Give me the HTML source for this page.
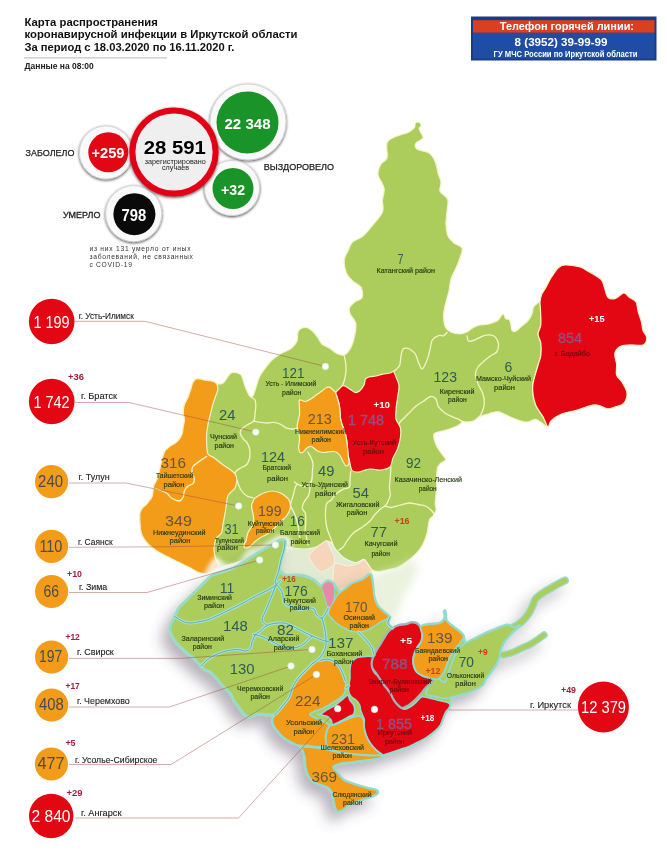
<!DOCTYPE html><html><head><meta charset="utf-8"><style>html,body{margin:0;padding:0;background:#fff;}svg{display:block;filter:blur(0.3px)} text{font-family:"Liberation Sans",sans-serif;}</style></head><body>
<svg width="667" height="850" viewBox="0 0 667 850">
<defs>
<filter id="sh" x="-20%" y="-20%" width="140%" height="140%"><feGaussianBlur in="SourceAlpha" stdDeviation="7"/><feOffset dx="-7" dy="9" result="b"/><feFlood flood-color="#5e5468"/><feComposite in2="b" operator="in"/><feComponentTransfer><feFuncA type="linear" slope="0.45"/></feComponentTransfer><feMerge><feMergeNode/><feMergeNode in="SourceGraphic"/></feMerge></filter>
<filter id="glow2" x="-20%" y="-20%" width="140%" height="140%"><feGaussianBlur stdDeviation="2"/></filter>
<filter id="glow" x="-20%" y="-20%" width="140%" height="140%"><feGaussianBlur stdDeviation="4"/></filter>
<filter id="csh" x="-30%" y="-30%" width="160%" height="160%"><feGaussianBlur in="SourceAlpha" stdDeviation="1.6"/><feOffset dx="-0.5" dy="0.8" result="b"/><feComponentTransfer><feFuncA type="linear" slope="0.75"/></feComponentTransfer><feMerge><feMergeNode/><feMergeNode in="SourceGraphic"/></feMerge></filter>
</defs>
<rect width="667" height="850" fill="#fff"/>
<path d="M417.0,123.0 C418.0,123.5 419.0,128.5 420.0,131.0 C421.0,133.5 423.7,136.0 423.0,138.0 C422.3,140.0 417.0,141.2 416.0,143.0 C415.0,144.8 414.8,147.3 417.0,149.0 C419.2,150.7 426.0,151.0 429.0,153.0 C432.0,155.0 433.5,157.7 435.0,161.0 C436.5,164.3 437.0,169.5 438.0,173.0 C439.0,176.5 440.7,179.0 441.0,182.0 C441.3,185.0 439.2,188.5 440.0,191.0 C440.8,193.5 444.7,195.3 446.0,197.0 C447.3,198.7 447.8,198.5 448.0,201.0 C448.2,203.5 447.3,208.2 447.0,212.0 C446.7,215.8 445.8,220.0 446.0,224.0 C446.2,228.0 446.7,232.8 448.0,236.0 C449.3,239.2 451.7,241.0 454.0,243.0 C456.3,245.0 461.0,245.5 462.0,248.0 C463.0,250.5 461.0,254.7 460.0,258.0 C459.0,261.3 457.5,264.5 456.0,268.0 C454.5,271.5 452.2,275.2 451.0,279.0 C449.8,282.8 450.0,286.5 449.0,291.0 C448.0,295.5 445.9,301.8 445.0,306.0 C444.1,310.2 443.5,312.5 443.6,316.0 C443.7,319.5 444.2,324.3 445.4,327.0 C446.6,329.7 448.4,330.8 450.8,332.0 C453.2,333.2 457.1,334.0 459.8,334.0 C462.5,334.0 464.9,333.0 467.0,332.0 C469.1,331.0 470.3,329.2 472.4,328.0 C474.5,326.8 476.9,325.7 479.6,325.0 C482.3,324.3 485.6,324.8 488.6,324.0 C491.6,323.2 495.2,322.2 497.6,320.5 C500.0,318.8 501.6,314.3 503.0,314.0 C504.4,313.7 504.6,317.8 505.7,318.7 C506.8,319.6 508.4,318.6 509.3,319.6 C510.2,320.7 510.6,323.2 511.0,325.0 C511.4,326.8 511.2,329.3 512.0,330.4 C512.8,331.4 514.1,331.9 515.6,331.3 C517.1,330.7 518.9,328.6 521.0,326.8 C523.1,325.0 526.4,322.6 528.2,320.5 C530.0,318.4 530.9,316.4 531.8,314.2 C532.7,311.9 532.7,308.8 533.6,307.0 C534.5,305.2 536.1,304.2 537.2,303.4 C538.3,302.6 539.5,300.9 540.0,302.0 C540.5,303.1 540.4,306.2 540.5,310.0 C540.6,313.8 541.2,321.0 540.8,325.0 C540.4,329.0 538.0,331.0 538.0,334.0 C538.0,337.0 540.3,339.4 540.8,343.0 C541.3,346.6 541.3,351.8 540.8,355.6 C540.3,359.4 539.1,360.9 537.8,366.0 C536.4,371.1 533.1,380.0 532.7,386.3 C532.3,392.6 533.6,398.9 535.3,404.0 C537.0,409.1 540.9,413.0 543.0,416.8 C545.1,420.6 548.4,426.1 548.0,427.0 C547.6,427.9 542.5,423.3 540.4,422.0 C538.3,420.7 537.4,419.4 535.3,419.4 C533.2,419.4 530.1,421.8 527.6,422.0 C525.1,422.2 523.0,421.6 520.0,420.7 C517.0,419.8 512.8,418.1 509.8,416.8 C506.8,415.5 504.1,413.9 502.0,413.0 C499.9,412.1 499.5,411.5 497.0,411.7 C494.5,411.9 489.8,413.4 486.8,414.3 C483.8,415.2 481.3,415.7 479.2,416.8 C477.1,417.9 476.1,419.8 474.0,420.7 C471.9,421.6 468.6,421.9 466.5,422.0 C464.4,422.1 462.2,420.8 461.4,421.0 C460.6,421.2 462.2,422.2 461.5,423.0 C460.8,423.8 459.0,425.0 457.0,426.0 C455.0,427.0 452.0,428.1 449.5,429.0 C447.0,429.9 444.2,430.6 442.0,431.2 C439.8,431.8 437.4,432.1 436.0,432.7 C434.6,433.3 433.8,433.4 433.7,435.0 C433.6,436.6 434.3,440.0 435.2,442.5 C436.1,445.0 437.6,447.8 439.0,450.0 C440.4,452.2 442.4,454.4 443.5,456.0 C444.6,457.6 446.2,458.4 445.7,459.7 C445.2,460.9 441.9,462.1 440.5,463.5 C439.1,464.9 438.1,465.8 437.5,468.0 C436.9,470.2 436.8,474.0 436.7,477.0 C436.6,480.0 436.8,483.0 436.7,486.0 C436.6,489.0 436.2,492.0 436.0,495.0 C435.8,498.0 435.2,501.5 435.2,504.0 C435.2,506.5 436.4,508.0 436.0,510.0 C435.6,512.0 434.1,514.3 433.0,516.0 C431.9,517.7 430.4,517.1 429.4,520.0 C428.4,522.9 428.1,529.4 427.0,533.5 C425.9,537.6 424.5,541.3 422.7,544.7 C420.9,548.1 418.6,550.9 416.0,553.7 C413.4,556.5 410.0,559.4 407.0,561.6 C404.0,563.9 401.0,565.9 398.0,567.2 C395.0,568.5 392.3,568.8 389.0,569.5 C385.7,570.2 381.1,571.7 378.2,571.7 C375.3,571.7 373.3,571.0 371.4,569.5 C369.5,568.0 368.3,564.4 367.0,562.7 C365.7,561.0 365.5,559.4 363.6,559.4 C361.7,559.4 358.9,562.9 355.7,562.7 C352.5,562.5 347.8,560.5 344.4,558.2 C341.0,556.0 337.7,551.8 335.5,549.2 C333.3,546.6 332.6,543.0 331.0,542.5 C329.4,542.0 329.5,543.8 326.0,546.0 C322.5,548.2 316.0,554.3 310.0,556.0 C304.0,557.7 296.7,556.0 290.0,556.0 C283.3,556.0 277.5,555.3 270.0,556.0 C262.5,556.7 252.5,558.3 245.0,560.0 C237.5,561.7 230.2,564.3 225.0,566.0 C219.8,567.7 217.1,568.7 214.0,570.0 C210.9,571.3 209.2,573.3 206.7,573.7 C204.2,574.1 201.9,573.5 199.0,572.5 C196.1,571.5 192.7,569.1 189.4,567.5 C186.2,565.9 182.8,564.2 179.5,562.6 C176.2,561.0 172.9,559.4 169.6,557.7 C166.3,556.1 162.7,554.4 159.8,552.7 C156.9,551.1 154.8,549.8 152.3,547.8 C149.8,545.8 146.8,542.9 145.0,540.4 C143.2,537.9 142.0,535.9 141.2,533.0 C140.4,530.1 140.2,526.3 140.0,523.0 C139.8,519.7 139.6,515.5 140.0,513.0 C140.4,510.5 141.3,509.6 142.5,508.0 C143.7,506.4 145.8,505.3 147.4,503.3 C149.0,501.3 151.3,498.9 152.3,496.0 C153.3,493.1 152.8,488.9 153.6,486.0 C154.4,483.1 156.3,481.5 157.3,478.6 C158.3,475.7 159.0,472.1 159.8,468.8 C160.6,465.5 161.4,461.9 162.2,459.0 C163.0,456.1 163.5,453.6 164.7,451.5 C165.9,449.4 167.5,448.1 169.6,446.5 C171.7,444.9 174.9,443.7 177.0,441.6 C179.1,439.6 181.0,436.7 182.0,434.2 C183.0,431.7 182.8,429.3 183.2,426.8 C183.6,424.3 184.4,421.9 184.4,419.4 C184.4,416.9 183.2,414.5 183.2,412.0 C183.2,409.5 183.6,407.1 184.4,404.6 C185.2,402.1 187.1,399.5 188.1,397.0 C189.1,394.5 189.8,392.2 190.6,389.8 C191.4,387.4 192.0,384.2 193.0,382.3 C194.0,380.4 194.9,379.0 196.8,378.6 C198.7,378.2 201.7,379.6 204.2,380.0 C206.7,380.4 209.5,380.4 211.6,381.0 C213.7,381.6 215.1,383.1 216.5,383.6 C217.9,384.1 218.8,384.2 220.0,384.0 C221.2,383.8 222.3,384.0 224.0,382.3 C225.7,380.6 228.2,375.3 230.0,373.7 C231.8,372.1 233.1,372.3 235.0,372.5 C236.9,372.7 239.8,373.4 241.2,375.0 C242.6,376.6 242.8,379.8 243.7,382.3 C244.6,384.8 245.6,387.7 246.5,389.8 C247.4,391.9 248.2,393.8 249.0,395.0 C249.8,396.2 250.3,397.0 251.0,397.0 C251.7,397.0 252.5,396.8 253.4,395.0 C254.3,393.2 255.4,389.0 256.4,386.0 C257.4,383.0 257.9,380.0 259.4,377.0 C260.9,374.0 263.1,371.0 265.4,368.0 C267.7,365.0 270.2,361.5 273.0,359.0 C275.8,356.5 279.0,354.8 282.0,353.0 C285.0,351.2 288.5,350.5 291.0,348.5 C293.5,346.5 295.8,343.9 297.0,341.0 C298.2,338.1 296.9,333.2 298.4,331.0 C299.9,328.8 303.5,327.3 306.0,327.5 C308.5,327.7 311.4,330.2 313.4,332.0 C315.4,333.8 316.6,336.0 318.0,338.0 C319.4,340.0 320.0,342.2 322.0,344.0 C324.0,345.8 327.7,347.0 330.0,348.5 C332.3,350.0 333.7,351.9 336.0,353.0 C338.3,354.1 341.6,355.8 344.0,355.0 C346.4,354.2 348.7,351.4 350.5,348.2 C352.3,345.0 353.8,339.8 354.7,335.6 C355.6,331.4 356.4,326.5 355.7,323.0 C355.0,319.5 351.6,317.1 350.5,314.6 C349.4,312.2 348.7,310.4 349.4,308.3 C350.1,306.2 352.6,303.8 354.7,302.0 C356.8,300.2 360.9,300.2 362.0,297.8 C363.1,295.4 362.6,290.1 361.0,287.3 C359.4,284.5 355.1,283.4 352.6,281.0 C350.2,278.6 347.7,276.1 346.3,272.6 C344.9,269.1 343.9,263.6 344.2,260.0 C344.5,256.4 346.6,254.0 348.0,251.0 C349.4,248.0 350.0,244.5 352.5,242.0 C355.0,239.5 359.5,239.0 363.0,236.0 C366.5,233.0 370.2,228.0 373.5,224.0 C376.8,220.0 381.0,216.0 382.5,212.0 C384.0,208.0 382.2,204.0 382.5,200.0 C382.8,196.0 384.8,192.2 384.0,188.0 C383.2,183.8 378.5,178.5 378.0,174.5 C377.5,170.5 379.5,166.8 381.0,164.0 C382.5,161.2 386.0,161.5 387.0,158.0 C388.0,154.5 385.8,146.5 387.0,143.0 C388.2,139.5 391.0,138.8 394.5,137.0 C398.0,135.2 404.8,134.0 408.0,132.5 C411.2,131.0 412.5,129.6 414.0,128.0 C415.5,126.4 416.0,122.5 417.0,123.0Z" fill="#accc5c" stroke="#f4f4c8" stroke-width="1.2" stroke-linejoin="round" stroke-linecap="round" />
<circle cx="418" cy="125" r="2.6" fill="#accc5c"/>
<path d="M154.8,488.5 C156.0,488.9 160.1,490.2 162.2,491.0 C164.3,491.8 165.6,492.3 167.2,493.5 C168.8,494.7 169.9,497.1 172.0,498.4 C174.1,499.6 177.6,501.2 179.5,501.0 C181.4,500.8 182.4,498.7 183.2,497.0 C184.0,495.3 183.6,492.8 184.4,491.0 C185.2,489.2 186.7,487.2 188.1,486.0 C189.5,484.8 192.0,484.8 193.0,483.6 C194.0,482.4 194.5,480.7 194.3,478.6 C194.1,476.5 192.1,473.2 191.9,471.2 C191.7,469.1 191.8,467.9 193.0,466.3 C194.2,464.7 197.0,463.0 199.3,461.4 C201.6,459.8 205.5,457.2 206.7,456.4" fill="none" stroke="#f4f4c8" stroke-width="1.3" stroke-linejoin="round" stroke-linecap="round" />
<path d="M251.0,397.0 C251.7,397.5 254.2,398.5 255.0,400.0 C255.8,401.5 255.8,403.6 255.8,406.0 C255.8,408.4 255.3,411.8 255.0,414.3 C254.7,416.8 255.0,419.2 253.7,421.0 C252.4,422.8 249.0,423.7 247.0,425.0 C245.0,426.3 242.7,427.6 241.6,429.0 C240.5,430.4 240.0,431.6 240.2,433.2 C240.4,434.8 241.9,437.0 243.0,438.6 C244.1,440.2 245.9,440.8 247.0,442.6 C248.1,444.4 249.2,446.9 249.7,449.4 C250.1,451.9 250.1,455.0 249.7,457.5 C249.2,460.0 248.6,462.4 247.0,464.2 C245.4,466.0 242.0,467.2 240.2,468.3 C238.4,469.4 237.1,470.1 236.2,471.0 C235.3,471.9 235.0,473.2 234.8,473.7" fill="none" stroke="#f4f4c8" stroke-width="1.3" stroke-linejoin="round" stroke-linecap="round" />
<path d="M253.7,421.0 C254.8,421.2 258.2,422.1 260.5,422.4 C262.8,422.7 264.9,423.0 267.2,423.0 C269.4,423.0 271.8,422.2 274.0,422.4 C276.2,422.6 278.7,423.5 280.7,424.4 C282.7,425.3 284.0,427.0 286.0,427.8 C288.0,428.6 290.8,429.0 292.9,429.0 C294.9,429.0 297.4,428.0 298.3,427.8" fill="none" stroke="#f4f4c8" stroke-width="1.3" stroke-linejoin="round" stroke-linecap="round" />
<path d="M344.0,355.0 C344.2,356.2 345.2,359.5 345.5,362.0 C345.8,364.5 346.2,367.0 346.0,370.0 C345.8,373.0 345.2,377.3 344.5,380.0 C343.8,382.7 342.4,385.0 342.0,386.0" fill="none" stroke="#f4f4c8" stroke-width="1.3" stroke-linejoin="round" stroke-linecap="round" />
<path d="M393.5,371.5 C394.0,371.1 395.6,370.1 396.7,369.0 C397.8,367.9 399.1,367.1 399.8,365.0 C400.5,362.9 400.4,359.2 400.9,356.6 C401.4,354.0 401.9,350.6 403.0,349.2 C404.1,347.8 405.8,348.0 407.2,348.2 C408.6,348.4 410.0,349.2 411.4,350.3 C412.8,351.4 414.4,352.4 415.6,354.5 C416.8,356.6 417.6,360.5 418.7,362.9 C419.8,365.3 420.8,368.6 421.9,369.0 C422.9,369.4 423.9,367.1 425.0,365.0 C426.1,362.9 427.3,359.4 428.2,356.6 C429.1,353.8 429.6,351.0 430.3,348.2 C431.0,345.4 431.0,341.9 432.4,339.8 C433.8,337.7 436.8,336.3 438.7,335.6 C440.6,334.9 442.2,336.3 443.6,335.8 C445.0,335.3 446.4,333.1 447.0,332.5" fill="none" stroke="#f4f4c8" stroke-width="1.3" stroke-linejoin="round" stroke-linecap="round" />
<path d="M467.0,335.8 C467.3,336.7 467.3,340.6 468.8,341.2 C470.3,341.8 473.6,340.3 476.0,339.4 C478.4,338.5 480.8,336.6 483.2,335.8 C485.6,335.1 488.3,334.6 490.4,334.9 C492.5,335.2 494.4,336.0 495.8,337.6 C497.2,339.2 498.4,342.4 498.5,344.8 C498.6,347.2 498.0,350.2 496.7,352.0 C495.4,353.8 492.8,354.2 490.7,355.7 C488.6,357.2 486.4,358.9 484.3,360.8 C482.2,362.7 479.5,364.7 478.0,367.0 C476.5,369.3 475.4,372.0 475.4,374.8 C475.4,377.6 476.7,380.5 478.0,383.7 C479.3,386.9 481.9,390.6 483.0,394.0 C484.1,397.4 484.5,400.8 484.3,404.0 C484.1,407.2 482.6,410.8 481.7,413.0 C480.8,415.2 479.6,416.3 479.2,417.0" fill="none" stroke="#f4f4c8" stroke-width="1.3" stroke-linejoin="round" stroke-linecap="round" />
<path d="M398.0,425.0 C398.4,424.5 398.6,423.8 400.2,422.0 C401.8,420.2 405.2,416.9 407.8,414.3 C410.4,411.7 413.0,408.7 415.5,406.6 C418.0,404.5 420.4,403.2 423.0,401.5 C425.6,399.8 428.7,396.9 430.8,396.5 C432.9,396.1 434.6,397.3 435.9,399.0 C437.2,400.7 436.9,404.3 438.4,406.6 C439.9,408.9 442.5,411.3 444.8,413.0 C447.1,414.7 450.1,415.7 452.4,416.8 C454.7,417.9 457.3,418.7 458.8,419.4 C460.3,420.1 461.0,420.7 461.4,421.0" fill="none" stroke="#f4f4c8" stroke-width="1.3" stroke-linejoin="round" stroke-linecap="round" />
<path d="M307.6,452.0 C308.2,453.0 310.3,456.0 311.2,458.0 C312.1,460.0 312.8,461.8 313.0,464.0 C313.2,466.2 312.6,468.6 312.4,471.2 C312.2,473.8 312.4,477.4 311.8,479.6 C311.2,481.8 310.1,483.2 308.8,484.4 C307.5,485.6 305.8,486.8 304.0,486.8 C302.2,486.8 299.6,485.2 298.0,484.4 C296.4,483.6 295.0,482.4 294.4,482.0" fill="none" stroke="#f4f4c8" stroke-width="1.3" stroke-linejoin="round" stroke-linecap="round" />
<path d="M297.0,484.0 C296.7,484.7 295.6,486.1 295.0,488.0 C294.4,489.9 293.8,493.0 293.2,495.2 C292.6,497.4 291.8,499.4 291.4,501.2 C290.9,503.0 290.6,505.2 290.5,506.0" fill="none" stroke="#f4f4c8" stroke-width="1.3" stroke-linejoin="round" stroke-linecap="round" />
<path d="M311.8,479.6 C311.5,481.0 310.5,485.4 310.0,488.0 C309.5,490.6 309.8,492.6 308.8,495.0 C307.8,497.4 305.1,500.0 304.0,502.2 C302.9,504.4 302.0,506.4 302.2,508.2 C302.4,510.0 304.6,510.8 305.2,513.0 C305.8,515.2 305.8,518.6 305.8,521.4 C305.8,524.2 305.1,527.2 305.2,529.8 C305.3,532.4 305.9,534.5 306.4,537.0 C306.9,539.5 307.7,543.7 308.0,545.0" fill="none" stroke="#f4f4c8" stroke-width="1.3" stroke-linejoin="round" stroke-linecap="round" />
<path d="M350.7,471.2 C350.6,472.7 350.2,477.4 350.0,480.0 C349.8,482.6 350.6,485.5 349.5,487.0 C348.4,488.5 345.5,488.2 343.5,489.2 C341.5,490.2 339.4,491.4 337.6,492.8 C335.8,494.2 333.8,496.4 332.8,497.6 C331.8,498.8 332.6,498.8 331.6,499.8 C330.6,500.8 327.8,501.6 326.8,503.4 C325.8,505.2 325.8,508.0 325.6,510.6 C325.4,513.2 325.4,516.2 325.6,519.0 C325.8,521.8 326.2,524.8 326.8,527.4 C327.4,530.0 328.4,532.4 329.2,534.6 C330.0,536.8 330.8,538.4 331.6,540.6 C332.4,542.8 333.2,545.4 334.0,547.8 C334.8,550.2 336.0,553.8 336.4,555.0" fill="none" stroke="#f4f4c8" stroke-width="1.3" stroke-linejoin="round" stroke-linecap="round" />
<path d="M391.0,467.0 C390.9,468.8 390.4,474.0 390.2,477.5 C389.9,481.0 389.5,485.0 389.5,488.0 C389.5,491.0 390.6,493.0 390.2,495.5 C389.8,498.0 388.1,501.2 387.2,503.0 C386.3,504.8 385.4,505.5 385.0,506.0" fill="none" stroke="#f4f4c8" stroke-width="1.3" stroke-linejoin="round" stroke-linecap="round" />
<path d="M385.0,506.0 C386.0,506.2 388.5,507.6 391.0,507.5 C393.5,507.4 397.0,505.9 400.0,505.2 C403.0,504.4 406.0,503.1 409.0,503.0 C412.0,502.9 415.2,504.0 418.0,504.5 C420.8,505.0 423.2,505.0 425.5,506.0 C427.8,507.0 430.1,509.2 431.5,510.5 C432.9,511.8 433.6,513.4 434.0,514.0" fill="none" stroke="#f4f4c8" stroke-width="1.3" stroke-linejoin="round" stroke-linecap="round" />
<path d="M385.0,506.0 C384.2,506.5 382.2,507.5 380.5,509.0 C378.8,510.5 376.2,513.0 374.5,515.0 C372.8,517.0 372.0,519.0 370.0,521.0 C368.0,523.0 365.2,525.0 362.5,527.0 C359.8,529.0 356.1,530.7 353.5,533.0 C350.9,535.3 348.8,538.3 347.1,540.6 C345.4,542.9 344.9,545.0 343.5,546.6 C342.1,548.2 339.6,549.6 338.8,550.2" fill="none" stroke="#f4f4c8" stroke-width="1.3" stroke-linejoin="round" stroke-linecap="round" />
<path d="M236.8,480.0 C237.5,481.7 239.3,487.3 241.0,490.0 C242.7,492.7 245.0,494.7 247.0,496.0 C249.0,497.3 252.0,497.4 253.0,497.7" fill="none" stroke="#f4f4c8" stroke-width="1.3" stroke-linejoin="round" stroke-linecap="round" />
<path d="M290.5,506.0 C291.2,507.5 293.8,511.8 295.0,515.0 C296.2,518.2 297.2,520.8 298.0,525.0 C298.8,529.2 299.7,537.5 300.0,540.0" fill="none" stroke="#f4f4c8" stroke-width="1.3" stroke-linejoin="round" stroke-linecap="round" />
<path d="M558.0,268.0 C560.1,266.2 561.5,265.2 565.0,265.0 C568.5,264.8 575.5,265.8 579.0,266.6 C582.5,267.4 582.4,267.9 586.0,270.0 C589.6,272.1 597.6,276.3 600.6,279.0 C603.6,281.7 602.8,283.0 604.0,286.0 C605.2,289.0 605.9,294.9 607.7,297.0 C609.5,299.1 612.3,299.3 615.0,298.6 C617.7,297.9 621.4,293.3 623.7,293.0 C626.0,292.7 627.0,295.5 629.0,297.0 C631.0,298.5 634.5,299.7 636.0,302.0 C637.5,304.3 637.1,307.7 638.0,311.0 C638.9,314.3 640.7,318.7 641.5,322.0 C642.3,325.3 642.1,328.0 643.0,330.6 C643.9,333.2 646.8,335.3 646.8,337.7 C646.8,340.1 646.0,343.8 643.0,345.0 C640.0,346.2 632.8,344.7 629.0,345.0 C625.2,345.3 622.4,345.2 620.0,346.6 C617.6,348.1 615.4,350.8 614.8,353.7 C614.2,356.6 616.3,360.4 616.6,364.0 C616.9,367.6 615.7,372.0 616.6,375.0 C617.5,378.0 620.3,379.0 622.0,382.0 C623.7,385.0 626.7,389.4 627.0,393.0 C627.3,396.6 625.7,401.2 623.7,403.5 C621.7,405.8 617.5,406.1 614.8,407.0 C612.1,407.9 610.7,409.1 607.7,408.8 C604.7,408.5 600.6,405.3 597.0,405.0 C593.4,404.7 589.5,406.1 586.0,407.0 C582.5,407.9 579.8,409.4 575.7,410.6 C571.6,411.8 565.6,412.3 561.5,414.0 C557.4,415.7 553.2,418.8 551.0,421.0 C548.8,423.2 549.3,427.7 548.0,427.0 C546.7,426.3 545.1,420.6 543.0,416.8 C540.9,413.0 537.0,409.1 535.3,404.0 C533.6,398.9 532.3,392.6 532.7,386.3 C533.1,380.0 536.4,371.1 537.8,366.0 C539.1,360.9 540.3,359.4 540.8,355.6 C541.3,351.8 541.3,346.6 540.8,343.0 C540.3,339.4 538.0,337.0 538.0,334.0 C538.0,331.0 540.4,329.0 540.8,325.0 C541.2,321.0 540.6,313.8 540.5,310.0 C540.4,306.2 539.8,304.6 540.0,302.0 C540.2,299.4 540.7,296.9 541.7,294.4 C542.7,291.9 544.7,289.6 546.0,287.2 C547.3,284.8 548.6,281.9 549.7,280.0 C550.8,278.1 551.2,277.5 552.6,275.5 C554.0,273.5 555.9,269.8 558.0,268.0Z" fill="#e30613" stroke="#f4f4c8" stroke-width="1.2" stroke-linejoin="round" stroke-linecap="round" />
<path d="M340.0,388.0 C341.2,386.8 342.0,385.9 343.0,385.7 C344.0,385.4 344.8,385.9 346.0,386.5 C347.2,387.1 349.0,388.5 350.5,389.5 C352.0,390.5 353.5,392.2 355.0,392.5 C356.5,392.8 358.0,392.2 359.5,391.0 C361.0,389.8 363.0,387.0 364.0,385.0 C365.0,383.0 364.5,380.4 365.5,379.0 C366.5,377.6 368.2,377.2 370.0,376.7 C371.8,376.2 374.0,376.4 376.0,376.0 C378.0,375.6 379.6,374.9 382.0,374.4 C384.4,373.9 388.5,373.5 390.4,373.0 C392.3,372.5 392.6,370.8 393.5,371.5 C394.4,372.2 395.1,374.6 396.0,377.0 C396.9,379.4 398.8,382.5 399.0,386.0 C399.2,389.5 398.0,394.0 397.5,398.0 C397.0,402.0 396.2,406.5 396.0,410.0 C395.8,413.5 395.2,416.0 396.0,419.0 C396.8,422.0 399.8,425.0 400.5,428.0 C401.2,431.0 401.0,433.5 400.5,437.0 C400.0,440.5 398.8,445.5 397.5,449.0 C396.2,452.5 394.2,455.0 393.0,458.0 C391.8,461.0 392.0,465.0 390.0,467.0 C388.0,469.0 383.3,469.6 381.0,470.0 C378.7,470.4 377.8,469.9 376.0,469.7 C374.2,469.5 372.0,468.9 370.0,469.0 C368.0,469.1 366.0,470.0 364.0,470.5 C362.0,471.0 360.0,472.0 358.0,472.0 C356.0,472.0 353.4,472.3 352.0,470.5 C350.6,468.7 350.2,463.6 349.5,461.0 C348.8,458.4 348.3,457.2 348.0,455.0 C347.7,452.8 347.7,450.4 347.5,448.0 C347.3,445.6 347.1,443.0 346.7,440.5 C346.3,438.0 345.8,435.2 345.2,433.0 C344.6,430.8 343.8,429.2 343.0,427.0 C342.2,424.8 341.2,422.0 340.7,419.5 C340.2,417.0 340.2,414.5 340.0,412.0 C339.8,409.5 339.7,407.0 339.2,404.5 C338.7,402.0 337.6,398.9 337.0,397.0 C336.4,395.1 335.0,394.5 335.5,393.0 C336.0,391.5 338.8,389.2 340.0,388.0Z" fill="#e30613" stroke="#f4f4c8" stroke-width="1.2" stroke-linejoin="round" stroke-linecap="round" />
<path d="M299.5,400.0 C300.5,399.0 303.5,401.8 305.5,401.5 C307.5,401.2 309.5,399.8 311.5,398.5 C313.5,397.2 315.8,395.2 317.5,394.0 C319.2,392.8 320.6,392.0 322.0,391.0 C323.4,390.0 324.4,388.6 325.7,388.0 C326.9,387.4 328.4,386.9 329.5,387.2 C330.6,387.4 331.5,388.6 332.5,389.5 C333.5,390.4 334.8,391.2 335.5,392.5 C336.2,393.8 336.4,395.0 337.0,397.0 C337.6,399.0 338.7,402.0 339.2,404.5 C339.7,407.0 339.8,409.5 340.0,412.0 C340.2,414.5 340.2,417.0 340.7,419.5 C341.2,422.0 342.2,424.8 343.0,427.0 C343.8,429.2 344.6,430.8 345.2,433.0 C345.8,435.2 346.3,438.0 346.7,440.5 C347.1,443.0 347.2,445.5 347.5,448.0 C347.8,450.5 347.9,453.0 348.2,455.5 C348.4,458.0 349.4,461.2 349.0,463.0 C348.6,464.8 347.0,466.2 346.0,466.0 C345.0,465.8 344.0,463.2 343.0,461.5 C342.0,459.8 341.2,457.1 340.0,455.5 C338.8,453.9 337.2,452.3 335.5,451.7 C333.8,451.1 331.5,451.6 329.5,451.7 C327.5,451.8 325.5,452.6 323.5,452.5 C321.5,452.4 319.5,452.0 317.5,451.0 C315.5,450.0 313.2,447.0 311.5,446.5 C309.8,446.0 308.5,447.0 307.0,448.0 C305.5,449.0 303.8,451.9 302.5,452.5 C301.2,453.1 300.1,452.7 299.5,451.7 C298.9,450.7 298.7,448.6 298.7,446.5 C298.7,444.4 299.5,441.5 299.5,439.0 C299.5,436.5 299.1,433.5 298.7,431.5 C298.3,429.5 297.3,428.8 297.2,427.0 C297.1,425.2 297.6,423.0 298.0,421.0 C298.4,419.0 299.2,417.2 299.5,415.0 C299.8,412.8 299.5,410.0 299.5,407.5 C299.5,405.0 298.5,401.0 299.5,400.0Z" fill="#f39c1a" stroke="#f4f4c8" stroke-width="1.2" stroke-linejoin="round" stroke-linecap="round" />
<path d="M196.8,378.6 C198.7,378.2 201.7,379.6 204.2,380.0 C206.7,380.4 209.5,380.4 211.6,381.0 C213.7,381.6 215.5,382.1 216.5,383.6 C217.5,385.1 218.0,387.6 217.8,389.8 C217.6,392.0 216.1,394.5 215.3,397.0 C214.5,399.5 213.6,401.7 212.8,404.6 C212.0,407.5 211.2,411.1 210.4,414.4 C209.6,417.7 208.6,421.0 208.0,424.3 C207.4,427.6 206.9,430.9 206.7,434.2 C206.5,437.5 206.5,440.7 206.7,444.0 C206.9,447.3 206.8,451.7 208.0,454.0 C209.2,456.3 211.8,456.1 214.0,457.7 C216.2,459.3 219.0,461.9 221.5,463.8 C224.0,465.7 226.8,467.2 229.0,468.8 C231.2,470.4 233.7,471.8 235.0,473.7 C236.3,475.6 236.8,477.6 236.8,480.0 C236.8,482.4 236.1,485.9 235.0,488.0 C233.9,490.1 231.8,491.0 230.5,492.5 C229.2,494.0 228.2,494.5 227.5,497.0 C226.8,499.5 226.5,504.2 226.0,507.5 C225.5,510.8 225.0,513.8 224.5,516.5 C224.0,519.2 223.5,521.2 223.0,524.0 C222.5,526.8 222.6,530.7 221.5,533.0 C220.4,535.3 217.8,535.5 216.5,538.0 C215.2,540.5 214.2,544.5 214.0,547.8 C213.8,551.1 214.5,554.8 215.3,557.7 C216.1,560.6 219.2,563.0 219.0,565.0 C218.8,567.0 216.1,568.5 214.0,570.0 C211.9,571.5 209.2,573.3 206.7,573.7 C204.2,574.1 201.9,573.5 199.0,572.5 C196.1,571.5 192.7,569.1 189.4,567.5 C186.2,565.9 182.8,564.2 179.5,562.6 C176.2,561.0 172.9,559.4 169.6,557.7 C166.3,556.1 162.7,554.4 159.8,552.7 C156.9,551.1 154.8,549.8 152.3,547.8 C149.8,545.8 146.8,542.9 145.0,540.4 C143.2,537.9 142.0,535.9 141.2,533.0 C140.4,530.1 140.2,526.3 140.0,523.0 C139.8,519.7 139.6,515.5 140.0,513.0 C140.4,510.5 141.3,509.6 142.5,508.0 C143.7,506.4 145.8,505.3 147.4,503.3 C149.0,501.3 151.3,498.9 152.3,496.0 C153.3,493.1 152.8,488.9 153.6,486.0 C154.4,483.1 156.3,481.5 157.3,478.6 C158.3,475.7 159.0,472.1 159.8,468.8 C160.6,465.5 161.4,461.9 162.2,459.0 C163.0,456.1 163.5,453.6 164.7,451.5 C165.9,449.4 167.5,448.1 169.6,446.5 C171.7,444.9 174.9,443.7 177.0,441.6 C179.1,439.6 181.0,436.7 182.0,434.2 C183.0,431.7 182.8,429.3 183.2,426.8 C183.6,424.3 184.4,421.9 184.4,419.4 C184.4,416.9 183.2,414.5 183.2,412.0 C183.2,409.5 183.6,407.1 184.4,404.6 C185.2,402.1 187.1,399.5 188.1,397.0 C189.1,394.5 189.8,392.2 190.6,389.8 C191.4,387.4 192.0,384.2 193.0,382.3 C194.0,380.4 194.9,379.0 196.8,378.6Z" fill="#f39c1a" stroke="#f4f4c8" stroke-width="1.2" stroke-linejoin="round" stroke-linecap="round" />
<path d="M154.8,488.5 C156.0,488.9 160.1,490.2 162.2,491.0 C164.3,491.8 165.6,492.3 167.2,493.5 C168.8,494.7 169.9,497.1 172.0,498.4 C174.1,499.6 177.6,501.2 179.5,501.0 C181.4,500.8 182.4,498.7 183.2,497.0 C184.0,495.3 183.6,492.8 184.4,491.0 C185.2,489.2 186.7,487.2 188.1,486.0 C189.5,484.8 192.0,484.8 193.0,483.6 C194.0,482.4 194.5,480.7 194.3,478.6 C194.1,476.5 192.1,473.2 191.9,471.2 C191.7,469.1 191.8,467.9 193.0,466.3 C194.2,464.7 197.0,463.0 199.3,461.4 C201.6,459.8 205.5,457.2 206.7,456.4" fill="none" stroke="#f4f4c8" stroke-width="1.3" stroke-linejoin="round" stroke-linecap="round" />
<path d="M254.5,498.5 C255.5,497.5 257.2,496.5 259.0,495.5 C260.8,494.5 262.8,493.2 265.0,492.5 C267.2,491.8 270.1,491.0 272.5,491.0 C274.9,491.0 277.2,491.8 279.2,492.5 C281.2,493.2 282.9,494.2 284.5,495.5 C286.1,496.8 288.0,498.2 289.0,500.0 C290.0,501.8 290.5,504.0 290.5,506.0 C290.5,508.0 289.8,510.2 289.0,512.0 C288.2,513.8 287.2,515.0 286.0,516.5 C284.8,518.0 283.0,519.5 281.5,521.0 C280.0,522.5 278.5,524.0 277.0,525.5 C275.5,527.0 274.2,528.5 272.5,530.0 C270.8,531.5 268.5,533.2 266.5,534.5 C264.5,535.8 262.5,536.2 260.5,537.5 C258.5,538.8 256.2,540.5 254.5,542.0 C252.8,543.5 251.5,545.5 250.0,546.5 C248.5,547.5 246.5,548.2 245.5,548.0 C244.5,547.8 243.9,546.2 244.0,545.0 C244.1,543.8 245.7,542.0 246.2,540.5 C246.7,539.0 246.6,537.5 247.0,536.0 C247.4,534.5 247.8,533.0 248.5,531.5 C249.2,530.0 250.6,528.8 251.5,527.0 C252.4,525.2 253.4,523.2 253.7,521.0 C253.9,518.8 253.4,516.0 253.0,513.5 C252.6,511.0 251.5,508.0 251.5,506.0 C251.5,504.0 252.5,502.8 253.0,501.5 C253.5,500.2 253.5,499.5 254.5,498.5Z" fill="#f39c1a" stroke="#f4f4c8" stroke-width="1.2" stroke-linejoin="round" stroke-linecap="round" />
<path d="M276.0,546.0 C277.8,544.3 289.1,547.7 292.0,548.0 C294.9,548.3 302.6,549.1 305.0,549.0 C307.4,548.9 313.9,547.8 316.0,547.0 C318.1,546.2 324.5,541.5 326.0,541.0 C327.5,540.5 330.1,541.7 331.0,542.5 C331.9,543.3 334.2,547.6 335.5,549.2 C336.8,550.8 342.4,556.9 344.4,558.2 C346.4,559.6 353.8,562.6 355.7,562.7 C357.6,562.8 362.5,559.4 363.6,559.4 C364.7,559.4 366.2,561.7 367.0,562.7 C367.8,563.7 370.8,567.6 371.4,569.5 C372.0,571.4 375.1,579.1 373.0,582.0 C370.9,584.9 354.8,596.2 350.0,598.0 C345.2,599.8 330.0,600.8 325.0,600.0 C320.0,599.2 304.5,592.0 300.0,590.0 C295.5,588.0 282.6,582.5 280.0,580.0 C277.4,577.5 274.4,568.4 274.0,565.0 C273.6,561.6 274.2,547.7 276.0,546.0Z" fill="#e2ebd2" stroke="#f4f7ea" stroke-width="1" stroke-linejoin="round" stroke-linecap="round" />
<g filter="url(#glow2)" opacity="0.8"><path d="M196.0,582.0 C196.0,579.7 201.8,576.2 205.0,572.0 C208.2,567.8 211.8,558.5 215.0,557.0 C218.2,555.5 221.0,561.8 224.0,563.0 C227.0,564.2 230.5,564.8 233.0,564.5 C235.5,564.2 237.2,563.0 239.0,561.5 C240.8,560.0 241.7,557.6 243.5,555.5 C245.3,553.4 247.2,550.5 250.0,549.0 C252.8,547.5 256.7,548.0 260.0,546.5 C263.3,545.0 266.7,541.9 270.0,540.0 C273.3,538.1 276.7,535.3 280.0,535.0 C283.3,534.7 288.0,535.8 290.0,538.0 C292.0,540.2 293.7,546.3 292.0,548.0 C290.3,549.7 284.5,546.7 280.0,548.0 C275.5,549.3 270.8,553.0 265.0,556.0 C259.2,559.0 251.7,562.7 245.0,566.0 C238.3,569.3 231.7,572.7 225.0,576.0 C218.3,579.3 209.8,585.0 205.0,586.0 C200.2,587.0 196.0,584.3 196.0,582.0Z" fill="#ffffff" stroke="none" stroke-width="0" stroke-linejoin="round" stroke-linecap="round" /></g>
<path d="M326.5,540.6 C327.9,540.6 329.2,546.5 330.0,548.0 C330.8,549.5 333.6,554.4 334.0,556.0 C334.4,557.6 334.9,562.7 334.3,564.0 C333.7,565.3 329.4,568.2 328.0,569.0 C326.6,569.8 322.1,572.1 320.7,571.8 C319.3,571.5 315.2,567.6 314.0,566.0 C312.8,564.4 308.8,557.8 309.0,556.0 C309.2,554.2 314.2,549.5 316.0,548.0 C317.8,546.5 325.1,540.6 326.5,540.6Z" fill="#f5d6ba" stroke="#f8f2e2" stroke-width="1" stroke-linejoin="round" stroke-linecap="round" />
<path d="M334.3,564.0 C335.0,562.6 338.6,563.8 340.0,564.0 C341.4,564.2 346.2,566.0 348.0,566.0 C349.8,566.0 356.1,564.6 357.7,564.0 C359.3,563.4 362.6,560.0 363.6,560.0 C364.6,560.0 366.7,563.0 367.5,564.0 C368.3,565.0 371.3,568.8 371.4,570.0 C371.4,571.2 369.1,574.9 368.0,576.0 C366.9,577.1 361.8,580.1 360.0,581.0 C358.2,581.9 352.0,584.2 350.0,585.0 C348.0,585.8 341.6,588.7 340.0,589.0 C338.4,589.3 334.7,589.1 334.0,588.0 C333.3,586.9 333.0,580.4 333.0,578.0 C333.0,575.6 333.6,565.4 334.3,564.0Z" fill="#f5d6ba" stroke="#f8f2e2" stroke-width="1" stroke-linejoin="round" stroke-linecap="round" />
<g filter="url(#glow)" opacity="0.7"><path d="M374.0,575.0 C375.7,571.0 381.0,572.3 385.0,571.0 C389.0,569.7 393.8,568.8 398.0,567.0 C402.2,565.2 406.7,560.2 410.0,560.0 C413.3,559.8 417.7,562.3 418.0,566.0 C418.3,569.7 414.7,576.3 412.0,582.0 C409.3,587.7 404.7,594.0 402.0,600.0 C399.3,606.0 398.7,614.3 396.0,618.0 C393.3,621.7 389.0,623.0 386.0,622.0 C383.0,621.0 379.8,616.5 378.0,612.0 C376.2,607.5 375.7,601.2 375.0,595.0 C374.3,588.8 372.3,579.0 374.0,575.0Z" fill="#e2ecd0" stroke="none" stroke-width="0" stroke-linejoin="round" stroke-linecap="round" /></g>
<g filter="url(#sh)"><path d="M213.0,575.0 C217.1,573.1 225.7,571.3 231.0,569.0 C236.3,566.7 240.2,563.9 245.0,561.0 C249.8,558.1 255.5,554.2 260.0,551.5 C264.5,548.8 268.7,546.4 272.0,544.5 C275.3,542.6 277.8,540.6 280.0,540.0 C282.2,539.4 284.3,539.3 285.0,541.0 C285.7,542.7 284.7,546.8 284.0,550.0 C283.3,553.2 281.7,556.7 281.0,560.0 C280.3,563.3 279.3,567.5 280.0,570.0 C280.7,572.5 282.5,574.2 285.0,575.0 C287.5,575.8 291.7,574.8 295.0,575.0 C298.3,575.2 301.8,575.2 305.0,576.0 C308.2,576.8 311.3,578.3 314.0,580.0 C316.7,581.7 318.8,585.8 321.0,586.0 C323.2,586.2 325.0,581.5 327.0,581.0 C329.0,580.5 330.8,581.1 333.0,583.0 C335.2,584.9 338.4,591.4 340.4,592.4 C342.4,593.4 343.4,590.2 345.2,588.8 C347.0,587.4 349.2,585.2 351.2,584.0 C353.2,582.8 355.2,582.4 357.2,581.6 C359.2,580.8 361.0,580.4 363.2,579.2 C365.4,578.0 368.8,573.6 370.4,574.4 C372.0,575.2 372.2,580.4 372.8,584.0 C373.4,587.6 373.2,592.4 374.0,596.0 C374.8,599.6 376.0,603.0 377.6,605.6 C379.2,608.2 381.6,609.8 383.5,611.6 C385.4,613.4 388.2,614.4 389.0,616.4 C389.8,618.4 387.4,621.5 388.0,623.4 C388.6,625.3 390.7,627.7 392.5,628.0 C394.3,628.3 396.6,625.8 398.8,625.2 C401.1,624.6 403.9,624.8 406.0,624.3 C408.1,623.8 409.6,622.6 411.4,622.5 C413.2,622.4 415.3,622.6 416.8,623.4 C418.3,624.1 419.2,626.7 420.4,627.0 C421.6,627.3 422.4,625.7 424.0,625.2 C425.6,624.7 427.5,624.5 430.0,624.2 C432.5,623.9 436.8,624.1 439.0,623.5 C441.2,622.9 442.5,621.8 443.5,620.5 C444.5,619.2 444.9,617.4 445.0,616.0 C445.1,614.6 444.2,613.1 444.2,612.2 C444.2,611.3 444.8,610.3 445.0,610.7 C445.2,611.1 445.4,612.9 445.7,614.5 C445.9,616.1 445.6,618.8 446.5,620.5 C447.4,622.2 449.2,623.5 451.0,625.0 C452.8,626.5 455.1,628.0 457.0,629.5 C458.9,631.0 461.1,632.8 462.2,634.0 C463.3,635.2 463.1,635.5 463.7,637.0 C464.3,638.5 464.1,642.8 466.0,643.0 C467.9,643.2 472.0,640.0 475.0,638.5 C478.0,637.0 481.0,635.4 484.0,634.0 C487.0,632.6 490.0,631.5 493.0,630.2 C496.0,629.0 499.5,627.4 502.0,626.5 C504.5,625.6 506.0,624.9 508.0,625.0 C510.0,625.1 512.0,627.2 514.0,627.2 C516.0,627.2 520.0,624.4 520.0,625.0 C520.0,625.6 516.0,629.0 514.0,631.0 C512.0,633.0 509.8,635.0 508.0,637.0 C506.2,639.0 504.8,640.8 503.5,643.0 C502.2,645.2 501.2,648.0 500.5,650.5 C499.8,653.0 500.0,655.2 499.0,658.0 C498.0,660.8 496.0,664.5 494.5,667.0 C493.0,669.5 491.5,671.0 490.0,673.0 C488.5,675.0 486.8,677.0 485.5,679.0 C484.2,681.0 484.2,683.2 482.5,685.0 C480.8,686.8 477.5,688.2 475.0,689.5 C472.5,690.8 470.0,691.6 467.5,692.5 C465.0,693.4 462.5,694.0 460.0,694.7 C457.5,695.5 454.2,695.4 452.5,697.0 C450.8,698.6 450.6,702.6 450.0,704.4 C449.4,706.2 449.6,706.6 448.8,708.0 C448.0,709.4 446.2,711.0 445.2,712.8 C444.2,714.6 443.6,716.8 442.8,718.8 C442.0,720.8 441.5,722.9 440.4,724.8 C439.3,726.7 438.2,728.0 436.0,730.0 C433.8,732.0 430.0,735.0 427.0,737.0 C424.0,739.0 421.0,740.4 418.0,742.0 C415.0,743.6 412.0,745.2 409.0,746.5 C406.0,747.8 403.0,748.5 400.0,749.5 C397.0,750.5 394.0,751.5 391.0,752.5 C388.0,753.5 384.8,754.4 382.0,755.5 C379.2,756.6 377.5,758.2 374.5,759.0 C371.5,759.8 367.8,760.0 364.0,760.5 C360.2,761.0 356.0,761.5 352.0,762.0 C348.0,762.5 343.2,762.7 340.0,763.5 C336.8,764.3 333.5,765.6 333.0,767.0 C332.5,768.4 335.3,769.9 337.0,772.0 C338.7,774.1 341.0,777.8 343.0,779.5 C345.0,781.2 346.5,781.5 349.0,782.5 C351.5,783.5 354.8,784.5 358.0,785.5 C361.2,786.5 365.5,787.8 368.5,788.5 C371.5,789.2 374.5,789.2 376.0,790.0 C377.5,790.8 378.0,792.0 377.5,793.0 C377.0,794.0 375.2,795.0 373.0,796.0 C370.8,797.0 367.0,798.0 364.0,799.0 C361.0,800.0 357.5,801.0 355.0,802.0 C352.5,803.0 351.0,803.8 349.0,805.0 C347.0,806.2 345.0,808.5 343.0,809.5 C341.0,810.5 338.5,812.2 337.0,811.0 C335.5,809.8 334.8,805.0 334.0,802.0 C333.2,799.0 333.5,795.4 332.5,793.0 C331.5,790.6 329.8,788.8 328.0,787.5 C326.2,786.2 324.0,785.8 322.0,785.0 C320.0,784.2 318.0,784.2 316.0,783.0 C314.0,781.8 311.5,779.8 310.0,778.0 C308.5,776.2 307.8,774.2 307.0,772.0 C306.2,769.8 305.8,767.3 305.5,765.0 C305.2,762.7 305.4,760.3 305.0,758.0 C304.6,755.7 303.9,753.1 303.0,751.0 C302.1,748.9 301.3,746.9 299.5,745.5 C297.7,744.1 294.5,743.8 292.0,742.5 C289.5,741.2 286.8,739.8 284.5,738.0 C282.2,736.2 280.2,734.0 278.5,732.0 C276.8,730.0 275.0,728.0 274.0,726.0 C273.0,724.0 272.5,721.8 272.5,720.0 C272.5,718.2 275.2,716.4 274.0,715.5 C272.8,714.6 267.8,715.0 265.0,714.7 C262.2,714.5 260.2,713.6 257.5,714.0 C254.8,714.4 251.2,717.0 249.0,717.0 C246.8,717.0 245.7,715.6 244.0,714.0 C242.3,712.4 240.7,709.5 239.0,707.3 C237.3,705.1 235.4,702.9 234.0,700.7 C232.6,698.5 232.1,696.0 230.8,694.0 C229.5,692.0 227.6,690.7 226.0,689.0 C224.4,687.3 222.7,685.9 221.0,684.0 C219.3,682.1 217.7,679.4 216.0,677.5 C214.3,675.6 212.9,674.0 211.0,672.6 C209.1,671.2 206.2,670.4 204.5,669.3 C202.8,668.2 202.9,667.9 201.0,666.0 C199.1,664.1 195.7,660.2 193.0,657.7 C190.3,655.2 187.1,653.2 184.6,651.0 C182.1,648.8 179.9,646.7 178.0,644.5 C176.1,642.3 174.5,640.8 173.1,638.0 C171.7,635.2 169.5,631.6 169.8,628.0 C170.1,624.4 173.1,619.9 174.7,616.5 C176.3,613.1 177.3,610.1 179.2,607.5 C181.1,604.9 183.8,603.0 186.0,600.7 C188.2,598.5 190.4,596.2 192.7,594.0 C194.9,591.8 197.2,589.5 199.5,587.2 C201.8,585.0 203.9,582.5 206.2,580.5 C208.4,578.5 208.9,576.9 213.0,575.0Z" fill="#accc5c" stroke="#98dcc6" stroke-width="3" stroke-linejoin="round" stroke-linecap="round" /><path d="M512.0,628.0 C513.0,627.4 516.0,625.9 518.0,624.5 C520.0,623.1 522.2,621.4 524.0,619.5 C525.8,617.6 527.6,615.2 529.0,613.0 C530.4,610.8 531.4,608.3 532.5,606.0 C533.6,603.7 534.2,600.8 535.5,599.0 C536.8,597.2 538.2,596.3 540.0,595.0 C541.8,593.7 544.0,592.2 546.0,591.0 C548.0,589.8 550.0,588.7 552.0,587.5 C554.0,586.3 555.8,585.2 558.0,584.0 C560.2,582.8 563.8,581.1 565.0,580.5" fill="none" stroke="#98dcc6" stroke-width="8" stroke-linejoin="round" stroke-linecap="round" /><path d="M503.0,655.0 C504.3,654.7 508.7,653.8 511.0,653.0 C513.3,652.2 515.0,651.4 517.0,650.5 C519.0,649.6 520.8,648.5 523.0,647.5 C525.2,646.5 527.7,645.8 530.0,644.5 C532.3,643.2 534.7,641.6 537.0,640.0 C539.3,638.4 542.8,635.8 544.0,635.0" fill="none" stroke="#98dcc6" stroke-width="7.5" stroke-linejoin="round" stroke-linecap="round" /></g>
<path d="M512.0,628.0 C513.0,627.4 516.0,625.9 518.0,624.5 C520.0,623.1 522.2,621.4 524.0,619.5 C525.8,617.6 527.6,615.2 529.0,613.0 C530.4,610.8 531.4,608.3 532.5,606.0 C533.6,603.7 534.2,600.8 535.5,599.0 C536.8,597.2 538.2,596.3 540.0,595.0 C541.8,593.7 544.0,592.2 546.0,591.0 C548.0,589.8 550.0,588.7 552.0,587.5 C554.0,586.3 555.8,585.2 558.0,584.0 C560.2,582.8 563.8,581.1 565.0,580.5" fill="none" stroke="#accc5c" stroke-width="5" stroke-linejoin="round" stroke-linecap="round" />
<path d="M503.0,655.0 C504.3,654.7 508.7,653.8 511.0,653.0 C513.3,652.2 515.0,651.4 517.0,650.5 C519.0,649.6 520.8,648.5 523.0,647.5 C525.2,646.5 527.7,645.8 530.0,644.5 C532.3,643.2 534.7,641.6 537.0,640.0 C539.3,638.4 542.8,635.8 544.0,635.0" fill="none" stroke="#accc5c" stroke-width="4.5" stroke-linejoin="round" stroke-linecap="round" />
<path d="M370.4,574.4 C371.2,575.8 372.2,580.4 372.8,584.0 C373.4,587.6 373.2,592.4 374.0,596.0 C374.8,599.6 376.0,603.0 377.6,605.6 C379.2,608.2 381.6,609.8 383.5,611.6 C385.4,613.4 388.4,615.2 389.0,616.4 C389.6,617.6 388.5,617.8 387.0,618.8 C385.5,619.8 382.4,621.0 380.0,622.4 C377.6,623.8 375.2,625.7 372.8,627.1 C370.4,628.5 368.0,629.9 365.6,630.7 C363.2,631.5 361.0,632.0 358.4,632.0 C355.8,632.0 352.6,631.5 350.0,630.7 C347.4,629.9 345.0,628.3 342.8,627.1 C340.6,625.9 338.6,624.9 336.8,623.5 C335.0,622.1 333.4,620.4 332.0,618.8 C330.6,617.2 328.8,615.8 328.4,614.0 C328.0,612.2 328.8,610.0 329.6,608.0 C330.4,606.0 332.0,604.0 333.2,602.0 C334.4,600.0 335.6,597.6 336.8,596.0 C338.0,594.4 339.0,593.6 340.4,592.4 C341.8,591.2 343.4,590.2 345.2,588.8 C347.0,587.4 349.2,585.2 351.2,584.0 C353.2,582.8 355.2,582.4 357.2,581.6 C359.2,580.8 361.4,580.2 363.2,579.2 C365.0,578.2 366.8,576.4 368.0,575.6 C369.2,574.8 369.6,573.0 370.4,574.4Z" fill="#f39c1a" stroke="#8fdbd3" stroke-width="1.5" stroke-linejoin="round" stroke-linecap="round" />
<path d="M327.2,581.6 C328.9,581.0 330.8,581.8 332.0,582.8 C333.2,583.8 334.0,585.4 334.4,587.6 C334.8,589.8 334.8,593.2 334.4,596.0 C334.0,598.8 333.0,602.4 332.0,604.4 C331.0,606.4 329.4,608.4 328.4,608.0 C327.4,607.6 326.8,604.4 326.0,602.0 C325.2,599.6 324.3,596.2 323.6,593.6 C322.9,591.0 321.2,588.4 321.8,586.4 C322.4,584.4 325.5,582.2 327.2,581.6Z" fill="#e58aa5" stroke="#8fdbd3" stroke-width="1" stroke-linejoin="round" stroke-linecap="round" />
<path d="M434.4,679.2 C436.0,678.4 437.2,678.5 439.0,679.0 C440.8,679.5 443.2,683.5 445.0,682.0 C446.8,680.5 448.0,674.0 449.5,670.0 C451.0,666.0 452.2,661.8 454.0,658.0 C455.8,654.2 458.0,650.0 460.0,647.5 C462.0,645.0 463.5,644.5 466.0,643.0 C468.5,641.5 472.0,640.0 475.0,638.5 C478.0,637.0 481.0,635.4 484.0,634.0 C487.0,632.6 490.0,631.5 493.0,630.2 C496.0,629.0 499.5,627.4 502.0,626.5 C504.5,625.6 506.0,624.9 508.0,625.0 C510.0,625.1 512.0,627.2 514.0,627.2 C516.0,627.2 520.0,624.4 520.0,625.0 C520.0,625.6 516.0,629.0 514.0,631.0 C512.0,633.0 509.8,635.0 508.0,637.0 C506.2,639.0 504.8,640.8 503.5,643.0 C502.2,645.2 501.2,648.0 500.5,650.5 C499.8,653.0 500.0,655.2 499.0,658.0 C498.0,660.8 496.0,664.5 494.5,667.0 C493.0,669.5 491.5,671.0 490.0,673.0 C488.5,675.0 486.8,677.0 485.5,679.0 C484.2,681.0 484.2,683.2 482.5,685.0 C480.8,686.8 477.5,688.2 475.0,689.5 C472.5,690.8 470.0,691.6 467.5,692.5 C465.0,693.4 462.5,694.0 460.0,694.7 C457.5,695.5 455.0,696.4 452.5,697.0 C450.0,697.6 447.5,698.4 445.0,698.4 C442.5,698.4 440.0,697.5 437.5,697.0 C435.0,696.5 431.9,696.0 430.0,695.5 C428.1,695.0 426.1,695.9 426.0,694.0 C425.9,692.1 428.2,686.5 429.6,684.0 C431.0,681.5 432.8,680.0 434.4,679.2Z" fill="#accc5c" stroke="#8fdbd3" stroke-width="1.8" stroke-linejoin="round" stroke-linecap="round" />
<path d="M351.2,662.8 C352.2,660.8 354.2,659.0 356.0,658.0 C357.8,657.0 360.0,657.1 362.0,656.8 C364.0,656.5 366.2,656.2 368.0,656.2 C369.8,656.2 371.6,656.1 372.8,656.8 C374.0,657.5 375.2,659.0 375.2,660.4 C375.2,661.8 373.2,663.6 372.8,665.2 C372.4,666.8 372.2,668.4 372.8,670.0 C373.4,671.6 375.0,673.4 376.4,674.8 C377.8,676.2 379.8,676.8 381.2,678.4 C382.6,680.0 383.5,682.4 384.7,684.4 C385.9,686.4 387.1,688.6 388.3,690.4 C389.5,692.2 390.6,693.6 392.0,695.2 C393.4,696.8 395.4,698.1 396.7,700.0 C398.0,701.9 398.3,705.3 399.6,706.8 C400.9,708.3 402.6,709.2 404.4,709.2 C406.2,709.2 408.4,708.0 410.4,706.8 C412.4,705.6 414.6,703.6 416.4,702.0 C418.2,700.4 419.6,698.0 421.2,697.2 C422.8,696.4 424.4,697.0 426.0,697.2 C427.6,697.4 429.2,698.0 430.8,698.4 C432.4,698.8 434.0,699.2 435.6,699.6 C437.2,700.0 438.6,700.4 440.4,700.8 C442.2,701.2 444.8,701.4 446.4,702.0 C448.0,702.6 449.6,703.4 450.0,704.4 C450.4,705.4 449.6,706.6 448.8,708.0 C448.0,709.4 446.2,711.0 445.2,712.8 C444.2,714.6 443.6,716.8 442.8,718.8 C442.0,720.8 441.5,722.9 440.4,724.8 C439.3,726.7 438.2,728.0 436.0,730.0 C433.8,732.0 430.0,735.0 427.0,737.0 C424.0,739.0 421.0,740.4 418.0,742.0 C415.0,743.6 412.0,745.2 409.0,746.5 C406.0,747.8 403.0,748.5 400.0,749.5 C397.0,750.5 394.0,751.6 391.0,752.5 C388.0,753.4 384.5,755.4 382.0,755.0 C379.5,754.6 378.0,752.0 376.0,750.0 C374.0,748.0 371.7,745.5 370.0,743.0 C368.3,740.5 367.0,737.7 366.0,735.0 C365.0,732.3 364.3,729.5 364.0,727.0 C363.7,724.5 364.5,721.7 364.4,720.0 C364.3,718.3 363.8,718.2 363.2,716.7 C362.6,715.2 361.4,712.7 360.8,710.7 C360.2,708.7 360.4,706.5 359.6,704.7 C358.8,702.9 357.4,701.4 356.0,700.0 C354.6,698.6 352.4,697.8 351.2,696.4 C350.0,695.0 349.2,693.4 348.8,691.6 C348.4,689.8 348.6,687.8 348.8,685.6 C349.0,683.4 349.8,681.0 350.0,678.4 C350.2,675.8 349.8,672.6 350.0,670.0 C350.2,667.4 350.2,664.8 351.2,662.8Z" fill="#e30613" stroke="#8fdbd3" stroke-width="1.5" stroke-linejoin="round" stroke-linecap="round" />
<path d="M392.5,628.0 C394.3,626.9 396.6,625.8 398.8,625.2 C401.1,624.6 403.9,624.8 406.0,624.3 C408.1,623.8 409.6,622.6 411.4,622.5 C413.2,622.4 415.3,622.6 416.8,623.4 C418.3,624.1 419.5,625.2 420.4,627.0 C421.3,628.8 422.0,631.8 422.2,634.2 C422.4,636.6 422.1,639.3 421.3,641.4 C420.6,643.5 418.8,645.0 417.7,646.8 C416.6,648.6 415.8,650.1 415.0,652.2 C414.2,654.3 413.4,657.0 413.2,659.4 C413.0,661.8 413.4,664.5 414.0,666.6 C414.6,668.7 415.4,670.5 416.8,672.0 C418.2,673.5 420.4,674.7 422.2,675.6 C424.0,676.5 425.6,676.8 427.6,677.4 C429.6,678.0 434.1,678.1 434.4,679.2 C434.7,680.3 431.2,682.4 429.6,684.0 C428.0,685.6 426.4,687.0 424.8,688.8 C423.2,690.6 421.8,692.8 420.0,694.8 C418.2,696.8 416.0,699.0 414.0,700.8 C412.0,702.6 410.0,704.4 408.0,705.6 C406.0,706.8 403.8,708.2 402.0,708.0 C400.2,707.8 398.6,705.8 397.2,704.4 C395.8,703.0 394.6,701.2 393.6,699.6 C392.6,698.0 392.1,696.4 391.2,694.8 C390.3,693.2 389.2,691.6 388.0,690.0 C386.8,688.4 385.3,686.8 384.0,685.0 C382.7,683.2 381.3,680.9 380.0,679.0 C378.7,677.1 377.6,675.3 376.4,673.6 C375.2,671.9 373.6,670.6 372.8,668.8 C372.0,667.0 371.4,665.1 371.6,662.8 C371.8,660.5 372.9,657.5 374.0,655.0 C375.1,652.5 376.5,650.5 378.0,648.0 C379.5,645.5 381.3,642.7 383.0,640.0 C384.7,637.3 386.4,634.0 388.0,632.0 C389.6,630.0 390.7,629.1 392.5,628.0Z" fill="#e30613" stroke="#9ab8bc" stroke-width="2.2" stroke-linejoin="round" stroke-linecap="round" />
<path d="M424.0,625.2 C425.6,624.7 427.5,624.5 430.0,624.2 C432.5,623.9 436.8,624.1 439.0,623.5 C441.2,622.9 442.5,621.8 443.5,620.5 C444.5,619.2 444.9,617.4 445.0,616.0 C445.1,614.6 444.2,613.1 444.2,612.2 C444.2,611.3 444.8,610.3 445.0,610.7 C445.2,611.1 445.4,612.9 445.7,614.5 C445.9,616.1 445.6,618.8 446.5,620.5 C447.4,622.2 449.2,623.5 451.0,625.0 C452.8,626.5 455.1,628.0 457.0,629.5 C458.9,631.0 461.1,632.8 462.2,634.0 C463.3,635.2 464.1,635.5 463.7,637.0 C463.3,638.5 461.6,640.8 460.0,643.0 C458.4,645.2 455.8,648.0 454.0,650.5 C452.2,653.0 450.8,655.5 449.5,658.0 C448.2,660.5 447.5,663.0 446.5,665.5 C445.5,668.0 444.8,670.8 443.5,673.0 C442.2,675.2 440.5,677.5 439.0,678.5 C437.5,679.5 436.3,679.4 434.4,679.2 C432.5,679.0 429.6,678.0 427.6,677.4 C425.6,676.8 424.0,676.5 422.2,675.6 C420.4,674.7 418.2,673.5 416.8,672.0 C415.4,670.5 414.6,668.7 414.0,666.6 C413.4,664.5 413.0,661.8 413.2,659.4 C413.4,657.0 414.2,654.3 415.0,652.2 C415.8,650.1 416.6,648.6 417.7,646.8 C418.8,645.0 420.6,643.5 421.3,641.4 C422.1,639.3 422.4,636.6 422.2,634.2 C422.0,631.8 420.1,628.5 420.4,627.0 C420.7,625.5 422.4,625.7 424.0,625.2Z" fill="#f39c1a" stroke="#8fdbd3" stroke-width="1.8" stroke-linejoin="round" stroke-linecap="round" />
<path d="M274.0,715.5 C275.1,713.9 277.2,712.6 279.0,710.5 C280.8,708.4 283.3,705.2 285.0,703.0 C286.7,700.8 288.2,699.3 289.4,697.0 C290.6,694.7 290.9,691.7 292.0,689.0 C293.1,686.3 294.5,683.3 296.0,681.0 C297.5,678.7 299.2,677.0 301.0,675.0 C302.8,673.0 305.0,671.0 307.0,669.0 C309.0,667.0 310.8,664.4 313.0,663.0 C315.2,661.6 317.6,661.0 320.0,660.4 C322.4,659.8 324.8,659.0 327.2,659.2 C329.6,659.4 332.4,660.4 334.4,661.6 C336.4,662.8 337.8,664.4 339.2,666.4 C340.6,668.4 341.8,671.2 342.8,673.6 C343.8,676.0 344.7,678.4 345.2,680.8 C345.7,683.2 346.0,685.8 345.8,688.0 C345.6,690.2 345.1,692.2 344.0,694.0 C342.9,695.8 341.0,697.4 339.2,698.8 C337.4,700.2 335.2,701.2 333.2,702.4 C331.2,703.6 329.4,704.8 327.2,706.0 C325.0,707.2 322.4,708.5 320.0,709.5 C317.6,710.5 314.7,711.1 313.0,712.0 C311.3,712.9 309.2,713.8 310.0,715.0 C310.8,716.2 315.3,717.7 318.0,719.0 C320.7,720.3 324.1,721.8 326.0,723.0 C327.9,724.2 329.4,724.5 329.5,726.0 C329.6,727.5 327.1,729.8 326.5,732.0 C325.9,734.2 325.4,737.2 325.7,739.5 C325.9,741.8 329.4,744.2 328.0,745.5 C326.6,746.8 321.0,747.0 317.5,747.0 C314.0,747.0 310.0,745.8 307.0,745.5 C304.0,745.2 302.0,746.0 299.5,745.5 C297.0,745.0 294.5,743.8 292.0,742.5 C289.5,741.2 286.8,739.8 284.5,738.0 C282.2,736.2 280.2,734.0 278.5,732.0 C276.8,730.0 275.0,728.0 274.0,726.0 C273.0,724.0 272.5,721.8 272.5,720.0 C272.5,718.2 272.9,717.1 274.0,715.5Z" fill="#f39c1a" stroke="#8fdbd3" stroke-width="1.8" stroke-linejoin="round" stroke-linecap="round" />
<path d="M317.5,714.0 C316.9,713.8 318.4,715.0 320.0,714.3 C321.6,713.5 324.6,711.1 327.2,709.5 C329.8,707.9 333.2,706.3 335.6,704.7 C338.0,703.1 339.6,701.6 341.6,700.0 C343.6,698.4 346.2,695.2 347.6,695.2 C349.0,695.2 349.0,698.4 350.0,700.0 C351.0,701.6 352.8,703.1 353.6,704.7 C354.4,706.3 354.8,707.9 354.8,709.5 C354.8,711.1 354.6,713.1 353.6,714.3 C352.6,715.5 350.6,715.8 348.8,716.7 C347.0,717.7 345.0,719.0 343.0,720.0 C341.0,721.0 338.8,722.2 337.0,723.0 C335.2,723.8 333.5,725.0 332.5,724.5 C331.5,724.0 331.8,721.2 331.0,720.0 C330.2,718.8 329.2,717.8 328.0,717.0 C326.8,716.2 325.2,716.0 323.5,715.5 C321.8,715.0 318.1,714.2 317.5,714.0Z" fill="#e30613" stroke="#8fdbd3" stroke-width="1.8" stroke-linejoin="round" stroke-linecap="round" />
<path d="M329.5,726.0 C330.9,724.8 332.8,725.3 335.0,724.5 C337.2,723.7 340.5,722.1 343.0,721.0 C345.5,719.9 348.0,718.8 350.0,718.0 C352.0,717.2 353.3,716.8 355.0,716.5 C356.7,716.2 358.6,715.4 360.0,716.0 C361.4,716.6 362.8,718.2 363.5,720.0 C364.2,721.8 363.6,724.5 364.0,727.0 C364.4,729.5 365.0,732.3 366.0,735.0 C367.0,737.7 368.3,740.5 370.0,743.0 C371.7,745.5 374.0,748.0 376.0,750.0 C378.0,752.0 383.0,754.1 382.0,755.0 C381.0,755.9 374.5,755.6 370.0,755.5 C365.5,755.4 360.0,755.0 355.0,754.5 C350.0,754.0 344.5,753.8 340.0,752.5 C335.5,751.2 330.4,749.2 328.0,747.0 C325.6,744.8 325.9,742.0 325.7,739.5 C325.4,737.0 325.9,734.2 326.5,732.0 C327.1,729.8 328.1,727.2 329.5,726.0Z" fill="#f39c1a" stroke="#8fdbd3" stroke-width="1.8" stroke-linejoin="round" stroke-linecap="round" />
<path d="M301.0,748.0 C302.2,747.3 306.0,746.8 310.0,747.0 C314.0,747.2 320.0,748.3 325.0,749.2 C330.0,750.1 335.0,751.6 340.0,752.5 C345.0,753.4 350.0,754.0 355.0,754.5 C360.0,755.0 365.5,755.3 370.0,755.5 C374.5,755.7 380.3,755.1 382.0,755.5 C383.7,755.9 381.2,757.4 380.0,758.0 C378.8,758.6 377.2,758.6 374.5,759.0 C371.8,759.4 367.8,760.0 364.0,760.5 C360.2,761.0 356.0,761.5 352.0,762.0 C348.0,762.5 343.2,762.7 340.0,763.5 C336.8,764.3 333.5,765.6 333.0,767.0 C332.5,768.4 335.3,769.9 337.0,772.0 C338.7,774.1 341.0,777.8 343.0,779.5 C345.0,781.2 346.5,781.5 349.0,782.5 C351.5,783.5 354.8,784.5 358.0,785.5 C361.2,786.5 365.5,787.8 368.5,788.5 C371.5,789.2 374.5,789.2 376.0,790.0 C377.5,790.8 378.0,792.0 377.5,793.0 C377.0,794.0 375.2,795.0 373.0,796.0 C370.8,797.0 367.0,798.0 364.0,799.0 C361.0,800.0 357.5,801.0 355.0,802.0 C352.5,803.0 351.0,803.8 349.0,805.0 C347.0,806.2 345.0,808.5 343.0,809.5 C341.0,810.5 338.5,812.2 337.0,811.0 C335.5,809.8 334.8,805.0 334.0,802.0 C333.2,799.0 333.5,795.4 332.5,793.0 C331.5,790.6 329.8,788.8 328.0,787.5 C326.2,786.2 324.0,785.8 322.0,785.0 C320.0,784.2 318.0,784.2 316.0,783.0 C314.0,781.8 311.5,779.8 310.0,778.0 C308.5,776.2 307.8,774.2 307.0,772.0 C306.2,769.8 305.8,767.3 305.5,765.0 C305.2,762.7 305.4,760.3 305.0,758.0 C304.6,755.7 303.7,752.7 303.0,751.0 C302.3,749.3 299.8,748.7 301.0,748.0Z" fill="#f39c1a" stroke="#8fdbd3" stroke-width="1.8" stroke-linejoin="round" stroke-linecap="round" />
<path d="M174.7,616.5 C176.1,617.3 180.3,620.4 183.0,621.5 C185.7,622.6 188.2,623.0 191.0,623.0 C193.8,623.0 197.2,622.0 200.0,621.5 C202.8,621.0 204.6,620.9 207.8,619.8 C211.0,618.7 215.2,616.7 219.3,614.8 C223.4,612.9 228.1,610.5 232.5,608.3 C236.9,606.1 242.6,603.3 245.7,601.7 C248.8,600.1 248.8,599.8 251.2,598.5 C253.6,597.2 257.2,595.5 260.2,594.0 C263.2,592.5 266.6,591.0 269.2,589.5 C271.8,588.0 274.1,586.5 276.0,585.0 C277.9,583.5 279.7,581.2 280.4,580.5" fill="none" stroke="#a4e2d4" stroke-width="3.2" stroke-linejoin="round" stroke-linecap="round" />
<path d="M285.0,541.0 C284.8,542.5 284.7,546.8 284.0,550.0 C283.3,553.2 281.8,556.7 281.0,560.0 C280.2,563.3 279.8,566.8 279.0,570.0 C278.2,573.2 276.6,576.8 276.0,579.0 C275.4,581.2 274.6,580.9 275.6,583.0 C276.6,585.1 280.5,588.3 281.9,591.5 C283.3,594.7 283.1,599.8 284.0,602.0 C284.9,604.2 285.7,604.0 287.5,605.0 C289.3,606.0 292.8,607.2 295.0,608.0 C297.2,608.8 298.5,609.5 301.0,609.5 C303.5,609.5 307.8,608.0 310.0,608.0 C312.2,608.0 313.5,608.5 314.5,609.5 C315.5,610.5 314.8,612.6 316.0,614.0 C317.2,615.4 319.9,619.0 322.0,618.0 C324.1,617.0 327.4,609.7 328.5,608.0" fill="none" stroke="#a4e2d4" stroke-width="3.2" stroke-linejoin="round" stroke-linecap="round" />
<path d="M201.0,666.0 C202.1,664.9 205.3,661.3 207.8,659.4 C210.3,657.5 213.0,655.9 216.0,654.5 C219.0,653.1 222.4,651.8 226.0,651.0 C229.6,650.2 234.2,649.5 237.5,649.5 C240.8,649.5 243.5,651.3 245.7,651.0 C247.9,650.7 249.6,649.4 250.7,647.8 C251.8,646.2 251.5,643.5 252.3,641.3 C253.1,639.1 254.3,636.4 255.6,634.7 C256.9,633.1 258.1,632.9 260.0,631.4 C261.9,629.9 264.3,626.9 267.0,625.5 C269.7,624.1 273.0,623.6 276.0,623.2 C279.0,622.8 282.3,622.7 285.0,623.2 C287.7,623.7 289.5,624.9 292.0,626.0 C294.5,627.1 296.7,628.3 300.0,630.0 C303.3,631.7 308.3,634.3 312.0,636.0 C315.7,637.7 319.0,639.0 322.0,640.0 C325.0,641.0 328.7,641.7 330.0,642.0" fill="none" stroke="#a4e2d4" stroke-width="3.2" stroke-linejoin="round" stroke-linecap="round" />
<path d="M253.4,634.4 C254.9,634.8 259.4,635.6 262.4,636.7 C265.4,637.8 268.4,639.7 271.4,641.2 C274.4,642.7 277.4,644.6 280.4,645.7 C283.4,646.8 286.5,647.8 289.4,648.0 C292.3,648.2 295.4,647.8 298.0,647.0 C300.6,646.2 302.7,644.8 305.0,643.0 C307.3,641.2 310.8,637.2 312.0,636.0" fill="none" stroke="#a4e2d4" stroke-width="3.2" stroke-linejoin="round" stroke-linecap="round" />
<path d="M276.0,585.0 C275.3,586.7 273.7,590.8 272.0,595.0 C270.3,599.2 267.7,605.8 266.0,610.0 C264.3,614.2 261.8,617.4 262.0,620.0 C262.2,622.6 266.2,624.6 267.0,625.5" fill="none" stroke="#a4e2d4" stroke-width="3.2" stroke-linejoin="round" stroke-linecap="round" />
<path d="M322.0,618.0 C322.5,620.0 324.3,625.5 325.0,630.0 C325.7,634.5 326.5,640.8 326.0,645.0 C325.5,649.2 323.8,652.2 322.0,655.0 C320.2,657.8 316.5,660.7 315.0,662.0 C313.5,663.3 313.3,662.8 313.0,663.0" fill="none" stroke="#a4e2d4" stroke-width="3.2" stroke-linejoin="round" stroke-linecap="round" />
<path d="M274.0,715.5 C274.8,714.7 277.2,712.6 279.0,710.5 C280.8,708.4 283.3,705.2 285.0,703.0 C286.7,700.8 288.2,699.3 289.4,697.0 C290.6,694.7 290.9,691.7 292.0,689.0 C293.1,686.3 294.5,683.3 296.0,681.0 C297.5,678.7 299.2,677.0 301.0,675.0 C302.8,673.0 305.0,671.0 307.0,669.0 C309.0,667.0 312.0,664.0 313.0,663.0" fill="none" stroke="#a4e2d4" stroke-width="3.2" stroke-linejoin="round" stroke-linecap="round" />
<path d="M320.0,660.4 C321.2,660.2 324.8,659.0 327.2,659.2 C329.6,659.4 332.4,660.4 334.4,661.6 C336.4,662.8 337.8,664.4 339.2,666.4 C340.6,668.4 341.8,671.2 342.8,673.6 C343.8,676.0 344.8,679.6 345.2,680.8" fill="none" stroke="#a4e2d4" stroke-width="3.2" stroke-linejoin="round" stroke-linecap="round" />
<path d="M345.8,688.0 L348.8,685.6" fill="none" stroke="#a4e2d4" stroke-width="3.2" stroke-linejoin="round" stroke-linecap="round" />
<path d="M358.5,632.0 C359.8,633.3 363.8,637.3 366.0,640.0 C368.2,642.7 370.7,645.5 372.0,648.0 C373.3,650.5 373.7,653.8 374.0,655.0" fill="none" stroke="#a4e2d4" stroke-width="3.2" stroke-linejoin="round" stroke-linecap="round" />
<path d="M390.0,617.0 C389.7,618.1 387.6,621.6 388.0,623.4 C388.4,625.2 391.8,627.2 392.5,628.0" fill="none" stroke="#a4e2d4" stroke-width="3.2" stroke-linejoin="round" stroke-linecap="round" />
<path d="M174.7,616.5 C176.1,617.3 180.3,620.4 183.0,621.5 C185.7,622.6 188.2,623.0 191.0,623.0 C193.8,623.0 197.2,622.0 200.0,621.5 C202.8,621.0 204.6,620.9 207.8,619.8 C211.0,618.7 215.2,616.7 219.3,614.8 C223.4,612.9 228.1,610.5 232.5,608.3 C236.9,606.1 242.6,603.3 245.7,601.7 C248.8,600.1 248.8,599.8 251.2,598.5 C253.6,597.2 257.2,595.5 260.2,594.0 C263.2,592.5 266.6,591.0 269.2,589.5 C271.8,588.0 274.1,586.5 276.0,585.0 C277.9,583.5 279.7,581.2 280.4,580.5" fill="none" stroke="#5aa6a6" stroke-width="0.9" stroke-linejoin="round" stroke-linecap="round" />
<path d="M285.0,541.0 C284.8,542.5 284.7,546.8 284.0,550.0 C283.3,553.2 281.8,556.7 281.0,560.0 C280.2,563.3 279.8,566.8 279.0,570.0 C278.2,573.2 276.6,576.8 276.0,579.0 C275.4,581.2 274.6,580.9 275.6,583.0 C276.6,585.1 280.5,588.3 281.9,591.5 C283.3,594.7 283.1,599.8 284.0,602.0 C284.9,604.2 285.7,604.0 287.5,605.0 C289.3,606.0 292.8,607.2 295.0,608.0 C297.2,608.8 298.5,609.5 301.0,609.5 C303.5,609.5 307.8,608.0 310.0,608.0 C312.2,608.0 313.5,608.5 314.5,609.5 C315.5,610.5 314.8,612.6 316.0,614.0 C317.2,615.4 319.9,619.0 322.0,618.0 C324.1,617.0 327.4,609.7 328.5,608.0" fill="none" stroke="#5aa6a6" stroke-width="0.9" stroke-linejoin="round" stroke-linecap="round" />
<path d="M201.0,666.0 C202.1,664.9 205.3,661.3 207.8,659.4 C210.3,657.5 213.0,655.9 216.0,654.5 C219.0,653.1 222.4,651.8 226.0,651.0 C229.6,650.2 234.2,649.5 237.5,649.5 C240.8,649.5 243.5,651.3 245.7,651.0 C247.9,650.7 249.6,649.4 250.7,647.8 C251.8,646.2 251.5,643.5 252.3,641.3 C253.1,639.1 254.3,636.4 255.6,634.7 C256.9,633.1 258.1,632.9 260.0,631.4 C261.9,629.9 264.3,626.9 267.0,625.5 C269.7,624.1 273.0,623.6 276.0,623.2 C279.0,622.8 282.3,622.7 285.0,623.2 C287.7,623.7 289.5,624.9 292.0,626.0 C294.5,627.1 296.7,628.3 300.0,630.0 C303.3,631.7 308.3,634.3 312.0,636.0 C315.7,637.7 319.0,639.0 322.0,640.0 C325.0,641.0 328.7,641.7 330.0,642.0" fill="none" stroke="#5aa6a6" stroke-width="0.9" stroke-linejoin="round" stroke-linecap="round" />
<path d="M253.4,634.4 C254.9,634.8 259.4,635.6 262.4,636.7 C265.4,637.8 268.4,639.7 271.4,641.2 C274.4,642.7 277.4,644.6 280.4,645.7 C283.4,646.8 286.5,647.8 289.4,648.0 C292.3,648.2 295.4,647.8 298.0,647.0 C300.6,646.2 302.7,644.8 305.0,643.0 C307.3,641.2 310.8,637.2 312.0,636.0" fill="none" stroke="#5aa6a6" stroke-width="0.9" stroke-linejoin="round" stroke-linecap="round" />
<path d="M276.0,585.0 C275.3,586.7 273.7,590.8 272.0,595.0 C270.3,599.2 267.7,605.8 266.0,610.0 C264.3,614.2 261.8,617.4 262.0,620.0 C262.2,622.6 266.2,624.6 267.0,625.5" fill="none" stroke="#5aa6a6" stroke-width="0.9" stroke-linejoin="round" stroke-linecap="round" />
<path d="M322.0,618.0 C322.5,620.0 324.3,625.5 325.0,630.0 C325.7,634.5 326.5,640.8 326.0,645.0 C325.5,649.2 323.8,652.2 322.0,655.0 C320.2,657.8 316.5,660.7 315.0,662.0 C313.5,663.3 313.3,662.8 313.0,663.0" fill="none" stroke="#5aa6a6" stroke-width="0.9" stroke-linejoin="round" stroke-linecap="round" />
<path d="M274.0,715.5 C274.8,714.7 277.2,712.6 279.0,710.5 C280.8,708.4 283.3,705.2 285.0,703.0 C286.7,700.8 288.2,699.3 289.4,697.0 C290.6,694.7 290.9,691.7 292.0,689.0 C293.1,686.3 294.5,683.3 296.0,681.0 C297.5,678.7 299.2,677.0 301.0,675.0 C302.8,673.0 305.0,671.0 307.0,669.0 C309.0,667.0 312.0,664.0 313.0,663.0" fill="none" stroke="#5aa6a6" stroke-width="0.9" stroke-linejoin="round" stroke-linecap="round" />
<path d="M320.0,660.4 C321.2,660.2 324.8,659.0 327.2,659.2 C329.6,659.4 332.4,660.4 334.4,661.6 C336.4,662.8 337.8,664.4 339.2,666.4 C340.6,668.4 341.8,671.2 342.8,673.6 C343.8,676.0 344.8,679.6 345.2,680.8" fill="none" stroke="#5aa6a6" stroke-width="0.9" stroke-linejoin="round" stroke-linecap="round" />
<path d="M345.8,688.0 L348.8,685.6" fill="none" stroke="#5aa6a6" stroke-width="0.9" stroke-linejoin="round" stroke-linecap="round" />
<path d="M358.5,632.0 C359.8,633.3 363.8,637.3 366.0,640.0 C368.2,642.7 370.7,645.5 372.0,648.0 C373.3,650.5 373.7,653.8 374.0,655.0" fill="none" stroke="#5aa6a6" stroke-width="0.9" stroke-linejoin="round" stroke-linecap="round" />
<path d="M390.0,617.0 C389.7,618.1 387.6,621.6 388.0,623.4 C388.4,625.2 391.8,627.2 392.5,628.0" fill="none" stroke="#5aa6a6" stroke-width="0.9" stroke-linejoin="round" stroke-linecap="round" />
<text x="397.5" y="264.2" font-size="14.5" fill="#2d5c55" font-weight="normal" textLength="6.0" lengthAdjust="spacingAndGlyphs" >7</text>
<text x="557.9" y="342.5" font-size="14.5" fill="#94507f" font-weight="normal" textLength="24.1" lengthAdjust="spacingAndGlyphs" stroke="#94507f" stroke-width="0.35">854</text>
<text x="504.6" y="371.9" font-size="14.5" fill="#2d5c55" font-weight="normal" textLength="7.8" lengthAdjust="spacingAndGlyphs" >6</text>
<text x="433.5" y="382.2" font-size="14.5" fill="#2d5c55" font-weight="normal" textLength="23.5" lengthAdjust="spacingAndGlyphs" >123</text>
<text x="348" y="424.7" font-size="14.5" fill="#94507f" font-weight="normal" textLength="36.0" lengthAdjust="spacingAndGlyphs" stroke="#94507f" stroke-width="0.35">1 748</text>
<text x="307.7" y="423.7" font-size="14.5" fill="#66553a" font-weight="normal" textLength="24.0" lengthAdjust="spacingAndGlyphs" >213</text>
<text x="282" y="378.2" font-size="14.5" fill="#2d5c55" font-weight="normal" textLength="22.4" lengthAdjust="spacingAndGlyphs" >121</text>
<text x="219" y="420.2" font-size="14.5" fill="#2d5c55" font-weight="normal" textLength="16.5" lengthAdjust="spacingAndGlyphs" >24</text>
<text x="261" y="462.09999999999997" font-size="14.5" fill="#2d5c55" font-weight="normal" textLength="24.0" lengthAdjust="spacingAndGlyphs" >124</text>
<text x="160.5" y="468.09999999999997" font-size="14.5" fill="#66553a" font-weight="normal" textLength="25.5" lengthAdjust="spacingAndGlyphs" >316</text>
<text x="318" y="475.7" font-size="14.5" fill="#2d5c55" font-weight="normal" textLength="16.4" lengthAdjust="spacingAndGlyphs" >49</text>
<text x="165" y="526.2" font-size="14.5" fill="#66553a" font-weight="normal" textLength="27.0" lengthAdjust="spacingAndGlyphs" >349</text>
<text x="258" y="516.2" font-size="14.5" fill="#66553a" font-weight="normal" textLength="23.5" lengthAdjust="spacingAndGlyphs" >199</text>
<text x="224.5" y="534.2" font-size="14.5" fill="#2d5c55" font-weight="normal" textLength="14.2" lengthAdjust="spacingAndGlyphs" >31</text>
<text x="289.7" y="525.7" font-size="14.5" fill="#2d5c55" font-weight="normal" textLength="15.0" lengthAdjust="spacingAndGlyphs" >16</text>
<text x="352.5" y="498.2" font-size="14.5" fill="#2d5c55" font-weight="normal" textLength="16.5" lengthAdjust="spacingAndGlyphs" >54</text>
<text x="406" y="468.4" font-size="14.5" fill="#2d5c55" font-weight="normal" textLength="15.0" lengthAdjust="spacingAndGlyphs" >92</text>
<text x="370.5" y="537.2" font-size="14.5" fill="#2d5c55" font-weight="normal" textLength="16.5" lengthAdjust="spacingAndGlyphs" >77</text>
<text x="219.7" y="592.5" font-size="14.5" fill="#2d5c55" font-weight="normal" textLength="14.6" lengthAdjust="spacingAndGlyphs" >11</text>
<text x="223" y="630.7" font-size="14.5" fill="#2d5c55" font-weight="normal" textLength="24.8" lengthAdjust="spacingAndGlyphs" >148</text>
<text x="229.8" y="674.2" font-size="14.5" fill="#2d5c55" font-weight="normal" textLength="24.8" lengthAdjust="spacingAndGlyphs" >130</text>
<text x="284.5" y="595.7" font-size="14.5" fill="#2d5c55" font-weight="normal" textLength="23.2" lengthAdjust="spacingAndGlyphs" >176</text>
<text x="277" y="635.3000000000001" font-size="14.5" fill="#2d5c55" font-weight="normal" textLength="17.0" lengthAdjust="spacingAndGlyphs" >82</text>
<text x="345" y="612.1" font-size="14.5" fill="#66553a" font-weight="normal" textLength="22.5" lengthAdjust="spacingAndGlyphs" >170</text>
<text x="328" y="647.7" font-size="14.5" fill="#2d5c55" font-weight="normal" textLength="25.5" lengthAdjust="spacingAndGlyphs" >137</text>
<text x="295" y="706.2" font-size="14.5" fill="#66553a" font-weight="normal" textLength="25.5" lengthAdjust="spacingAndGlyphs" >224</text>
<text x="331" y="743.7" font-size="14.5" fill="#66553a" font-weight="normal" textLength="24.0" lengthAdjust="spacingAndGlyphs" >231</text>
<text x="311.5" y="782.2" font-size="14.5" fill="#66553a" font-weight="normal" textLength="25.5" lengthAdjust="spacingAndGlyphs" >369</text>
<text x="376" y="728.7" font-size="14.5" fill="#94507f" font-weight="normal" textLength="36.0" lengthAdjust="spacingAndGlyphs" stroke="#94507f" stroke-width="0.35">1 855</text>
<text x="382" y="668.7" font-size="14.5" fill="#94507f" font-weight="normal" textLength="25.5" lengthAdjust="spacingAndGlyphs" stroke="#94507f" stroke-width="0.35">788</text>
<text x="427" y="643.2" font-size="14.5" fill="#66553a" font-weight="normal" textLength="25.4" lengthAdjust="spacingAndGlyphs" >139</text>
<text x="458.7" y="666.9000000000001" font-size="14.5" fill="#2d5c55" font-weight="normal" textLength="15.3" lengthAdjust="spacingAndGlyphs" >70</text>
<text x="376.5" y="273.3" font-size="7.6" fill="#1f3512" font-weight="normal" textLength="58.5" lengthAdjust="spacingAndGlyphs" stroke="#1f3512" stroke-width="0.15">Катангский район</text>
<text x="555" y="356" font-size="7.6" fill="#6a0a12" font-weight="normal" textLength="35.0" lengthAdjust="spacingAndGlyphs" stroke="#6a0a12" stroke-width="0.15">г. Бодайбо</text>
<text x="476" y="381" font-size="7.6" fill="#1f3512" font-weight="normal" textLength="55.0" lengthAdjust="spacingAndGlyphs" stroke="#1f3512" stroke-width="0.15">Мамско-Чуйский</text>
<text x="494" y="389.5" font-size="7.6" fill="#1f3512" font-weight="normal" textLength="21.0" lengthAdjust="spacingAndGlyphs" stroke="#1f3512" stroke-width="0.15">район</text>
<text x="439.8" y="394.2" font-size="7.6" fill="#1f3512" font-weight="normal" textLength="34.7" lengthAdjust="spacingAndGlyphs" stroke="#1f3512" stroke-width="0.15">Киренский</text>
<text x="448" y="401.5" font-size="7.6" fill="#1f3512" font-weight="normal" textLength="18.8" lengthAdjust="spacingAndGlyphs" stroke="#1f3512" stroke-width="0.15">район</text>
<text x="352.5" y="445" font-size="7.6" fill="#6a0a12" font-weight="normal" textLength="43.5" lengthAdjust="spacingAndGlyphs" stroke="#6a0a12" stroke-width="0.15">Усть-Кутский</text>
<text x="363" y="453.5" font-size="7.6" fill="#6a0a12" font-weight="normal" textLength="21.0" lengthAdjust="spacingAndGlyphs" stroke="#6a0a12" stroke-width="0.15">район</text>
<text x="295" y="434" font-size="7.6" fill="#1f3512" font-weight="normal" textLength="51.0" lengthAdjust="spacingAndGlyphs" stroke="#1f3512" stroke-width="0.15">Нижнеилимский</text>
<text x="311.5" y="442" font-size="7.6" fill="#1f3512" font-weight="normal" textLength="19.5" lengthAdjust="spacingAndGlyphs" stroke="#1f3512" stroke-width="0.15">район</text>
<text x="265.4" y="385.5" font-size="7.6" fill="#1f3512" font-weight="normal" textLength="51.0" lengthAdjust="spacingAndGlyphs" stroke="#1f3512" stroke-width="0.15">Усть - Илимский</text>
<text x="282" y="395" font-size="7.6" fill="#1f3512" font-weight="normal" textLength="19.4" lengthAdjust="spacingAndGlyphs" stroke="#1f3512" stroke-width="0.15">район</text>
<text x="210" y="439" font-size="7.6" fill="#1f3512" font-weight="normal" textLength="27.0" lengthAdjust="spacingAndGlyphs" stroke="#1f3512" stroke-width="0.15">Чунский</text>
<text x="214.5" y="447.5" font-size="7.6" fill="#1f3512" font-weight="normal" textLength="19.5" lengthAdjust="spacingAndGlyphs" stroke="#1f3512" stroke-width="0.15">район</text>
<text x="262.4" y="470.4" font-size="7.6" fill="#1f3512" font-weight="normal" textLength="28.6" lengthAdjust="spacingAndGlyphs" stroke="#1f3512" stroke-width="0.15">Братский</text>
<text x="267" y="480.5" font-size="7.6" fill="#1f3512" font-weight="normal" textLength="21.0" lengthAdjust="spacingAndGlyphs" stroke="#1f3512" stroke-width="0.15">район</text>
<text x="156" y="478" font-size="7.6" fill="#1f3512" font-weight="normal" textLength="37.5" lengthAdjust="spacingAndGlyphs" stroke="#1f3512" stroke-width="0.15">Тайшетский</text>
<text x="163.5" y="486.5" font-size="7.6" fill="#1f3512" font-weight="normal" textLength="21.0" lengthAdjust="spacingAndGlyphs" stroke="#1f3512" stroke-width="0.15">район</text>
<text x="301.4" y="487" font-size="7.6" fill="#1f3512" font-weight="normal" textLength="46.6" lengthAdjust="spacingAndGlyphs" stroke="#1f3512" stroke-width="0.15">Усть-Удинский</text>
<text x="315" y="495.5" font-size="7.6" fill="#1f3512" font-weight="normal" textLength="21.0" lengthAdjust="spacingAndGlyphs" stroke="#1f3512" stroke-width="0.15">район</text>
<text x="153" y="534.5" font-size="7.6" fill="#1f3512" font-weight="normal" textLength="52.5" lengthAdjust="spacingAndGlyphs" stroke="#1f3512" stroke-width="0.15">Нижнеудинский</text>
<text x="169.5" y="543" font-size="7.6" fill="#1f3512" font-weight="normal" textLength="21.0" lengthAdjust="spacingAndGlyphs" stroke="#1f3512" stroke-width="0.15">район</text>
<text x="247.7" y="526" font-size="7.6" fill="#1f3512" font-weight="normal" textLength="35.3" lengthAdjust="spacingAndGlyphs" stroke="#1f3512" stroke-width="0.15">Куйтунский</text>
<text x="256" y="533" font-size="7.6" fill="#1f3512" font-weight="normal" textLength="18.0" lengthAdjust="spacingAndGlyphs" stroke="#1f3512" stroke-width="0.15">район</text>
<text x="215" y="543" font-size="7.6" fill="#1f3512" font-weight="normal" textLength="29.0" lengthAdjust="spacingAndGlyphs" stroke="#1f3512" stroke-width="0.15">Тулунский</text>
<text x="217" y="549.5" font-size="7.6" fill="#1f3512" font-weight="normal" textLength="21.0" lengthAdjust="spacingAndGlyphs" stroke="#1f3512" stroke-width="0.15">район</text>
<text x="280" y="535" font-size="7.6" fill="#1f3512" font-weight="normal" textLength="40.0" lengthAdjust="spacingAndGlyphs" stroke="#1f3512" stroke-width="0.15">Балаганский</text>
<text x="290.5" y="543.5" font-size="7.6" fill="#1f3512" font-weight="normal" textLength="19.5" lengthAdjust="spacingAndGlyphs" stroke="#1f3512" stroke-width="0.15">район</text>
<text x="336" y="506.5" font-size="7.6" fill="#1f3512" font-weight="normal" textLength="43.5" lengthAdjust="spacingAndGlyphs" stroke="#1f3512" stroke-width="0.15">Жигаловский</text>
<text x="346.5" y="515" font-size="7.6" fill="#1f3512" font-weight="normal" textLength="21.0" lengthAdjust="spacingAndGlyphs" stroke="#1f3512" stroke-width="0.15">район</text>
<text x="394.5" y="482.4" font-size="7.6" fill="#1f3512" font-weight="normal" textLength="67.5" lengthAdjust="spacingAndGlyphs" stroke="#1f3512" stroke-width="0.15">Казачинско-Ленский</text>
<text x="418.7" y="490.5" font-size="7.6" fill="#1f3512" font-weight="normal" textLength="18.0" lengthAdjust="spacingAndGlyphs" stroke="#1f3512" stroke-width="0.15">район</text>
<text x="364.5" y="546.4" font-size="7.6" fill="#1f3512" font-weight="normal" textLength="33.0" lengthAdjust="spacingAndGlyphs" stroke="#1f3512" stroke-width="0.15">Качугский</text>
<text x="371.4" y="555.5" font-size="7.6" fill="#1f3512" font-weight="normal" textLength="18.6" lengthAdjust="spacingAndGlyphs" stroke="#1f3512" stroke-width="0.15">район</text>
<text x="197.2" y="600.2" font-size="7.6" fill="#1f3512" font-weight="normal" textLength="34.8" lengthAdjust="spacingAndGlyphs" stroke="#1f3512" stroke-width="0.15">Зиминский</text>
<text x="204" y="608.2" font-size="7.6" fill="#1f3512" font-weight="normal" textLength="20.2" lengthAdjust="spacingAndGlyphs" stroke="#1f3512" stroke-width="0.15">район</text>
<text x="181.5" y="640.6" font-size="7.6" fill="#1f3512" font-weight="normal" textLength="42.7" lengthAdjust="spacingAndGlyphs" stroke="#1f3512" stroke-width="0.15">Заларинский</text>
<text x="192.7" y="648.7" font-size="7.6" fill="#1f3512" font-weight="normal" textLength="19.1" lengthAdjust="spacingAndGlyphs" stroke="#1f3512" stroke-width="0.15">район</text>
<text x="237" y="690.6" font-size="7.6" fill="#1f3512" font-weight="normal" textLength="46.4" lengthAdjust="spacingAndGlyphs" stroke="#1f3512" stroke-width="0.15">Черемховский</text>
<text x="250.4" y="699.1" font-size="7.6" fill="#1f3512" font-weight="normal" textLength="19.6" lengthAdjust="spacingAndGlyphs" stroke="#1f3512" stroke-width="0.15">район</text>
<text x="283.7" y="602.5" font-size="7.6" fill="#1f3512" font-weight="normal" textLength="32.3" lengthAdjust="spacingAndGlyphs" stroke="#1f3512" stroke-width="0.15">Нукутский</text>
<text x="289.7" y="610.2" font-size="7.6" fill="#1f3512" font-weight="normal" textLength="19.5" lengthAdjust="spacingAndGlyphs" stroke="#1f3512" stroke-width="0.15">район</text>
<text x="268" y="641.3" font-size="7.6" fill="#1f3512" font-weight="normal" textLength="31.5" lengthAdjust="spacingAndGlyphs" stroke="#1f3512" stroke-width="0.15">Аларский</text>
<text x="273.7" y="649.8" font-size="7.6" fill="#1f3512" font-weight="normal" textLength="20.3" lengthAdjust="spacingAndGlyphs" stroke="#1f3512" stroke-width="0.15">район</text>
<text x="343.5" y="620" font-size="7.6" fill="#1f3512" font-weight="normal" textLength="31.5" lengthAdjust="spacingAndGlyphs" stroke="#1f3512" stroke-width="0.15">Осинский</text>
<text x="349.5" y="628" font-size="7.6" fill="#1f3512" font-weight="normal" textLength="19.5" lengthAdjust="spacingAndGlyphs" stroke="#1f3512" stroke-width="0.15">район</text>
<text x="326.5" y="656" font-size="7.6" fill="#1f3512" font-weight="normal" textLength="36.0" lengthAdjust="spacingAndGlyphs" stroke="#1f3512" stroke-width="0.15">Боханский</text>
<text x="334" y="663.9" font-size="7.6" fill="#1f3512" font-weight="normal" textLength="19.5" lengthAdjust="spacingAndGlyphs" stroke="#1f3512" stroke-width="0.15">район</text>
<text x="286" y="725" font-size="7.6" fill="#1f3512" font-weight="normal" textLength="36.0" lengthAdjust="spacingAndGlyphs" stroke="#1f3512" stroke-width="0.15">Усольский</text>
<text x="293.5" y="733.5" font-size="7.6" fill="#1f3512" font-weight="normal" textLength="21.0" lengthAdjust="spacingAndGlyphs" stroke="#1f3512" stroke-width="0.15">район</text>
<text x="320.5" y="750.4" font-size="7.6" fill="#1f3512" font-weight="normal" textLength="43.5" lengthAdjust="spacingAndGlyphs" stroke="#1f3512" stroke-width="0.15">Шелеховский</text>
<text x="332.5" y="757.5" font-size="7.6" fill="#1f3512" font-weight="normal" textLength="19.5" lengthAdjust="spacingAndGlyphs" stroke="#1f3512" stroke-width="0.15">район</text>
<text x="332.5" y="796.5" font-size="7.6" fill="#1f3512" font-weight="normal" textLength="39.0" lengthAdjust="spacingAndGlyphs" stroke="#1f3512" stroke-width="0.15">Слюдянский</text>
<text x="343" y="805" font-size="7.6" fill="#1f3512" font-weight="normal" textLength="19.5" lengthAdjust="spacingAndGlyphs" stroke="#1f3512" stroke-width="0.15">район</text>
<text x="377.5" y="735.4" font-size="7.6" fill="#6a0a12" font-weight="normal" textLength="34.5" lengthAdjust="spacingAndGlyphs" stroke="#6a0a12" stroke-width="0.15">Иркутский</text>
<text x="385" y="743.9" font-size="7.6" fill="#6a0a12" font-weight="normal" textLength="19.5" lengthAdjust="spacingAndGlyphs" stroke="#6a0a12" stroke-width="0.15">район</text>
<text x="368.5" y="683.6" font-size="7.6" fill="#6a0a12" font-weight="normal" textLength="62.9" lengthAdjust="spacingAndGlyphs" stroke="#6a0a12" stroke-width="0.15">Эхирит-Булагатский</text>
<text x="389.5" y="691.5" font-size="7.6" fill="#6a0a12" font-weight="normal" textLength="19.5" lengthAdjust="spacingAndGlyphs" stroke="#6a0a12" stroke-width="0.15">район</text>
<text x="415" y="653" font-size="7.6" fill="#1f3512" font-weight="normal" textLength="45.0" lengthAdjust="spacingAndGlyphs" stroke="#1f3512" stroke-width="0.15">Баяндаевский</text>
<text x="428.4" y="660.9" font-size="7.6" fill="#1f3512" font-weight="normal" textLength="19.6" lengthAdjust="spacingAndGlyphs" stroke="#1f3512" stroke-width="0.15">район</text>
<text x="446.8" y="678" font-size="7.6" fill="#1f3512" font-weight="normal" textLength="37.4" lengthAdjust="spacingAndGlyphs" stroke="#1f3512" stroke-width="0.15">Ольхонский</text>
<text x="455.3" y="686.1" font-size="7.6" fill="#1f3512" font-weight="normal" textLength="20.4" lengthAdjust="spacingAndGlyphs" stroke="#1f3512" stroke-width="0.15">район</text>
<text x="589" y="321.8" font-size="8.5" fill="#fff" font-weight="bold" textLength="15.6" lengthAdjust="spacingAndGlyphs" >+15</text>
<text x="373.5" y="407.5" font-size="8.5" fill="#fff" font-weight="bold" textLength="16.5" lengthAdjust="spacingAndGlyphs" >+10</text>
<text x="394.5" y="524" font-size="8.5" fill="#c0441a" font-weight="bold" textLength="15.0" lengthAdjust="spacingAndGlyphs" >+16</text>
<text x="282.2" y="581.7" font-size="8.5" fill="#c0441a" font-weight="bold" textLength="13.5" lengthAdjust="spacingAndGlyphs" >+16</text>
<text x="400" y="643.5" font-size="8.5" fill="#fff" font-weight="bold" textLength="12.0" lengthAdjust="spacingAndGlyphs" >+5</text>
<text x="425.4" y="673.5" font-size="8.5" fill="#c0441a" font-weight="bold" textLength="15.0" lengthAdjust="spacingAndGlyphs" >+12</text>
<text x="478" y="654.6" font-size="8.5" fill="#c0441a" font-weight="bold" textLength="9.6" lengthAdjust="spacingAndGlyphs" >+9</text>
<text x="420.6" y="721.2" font-size="8.5" fill="#fff" font-weight="bold" textLength="13.8" lengthAdjust="spacingAndGlyphs" >+18</text>
<polyline points="75,321.3 145,321.3 325.4,366.5" fill="none" stroke="#a04a3c" stroke-opacity="0.45" stroke-width="1"/>
<polyline points="75,402.5 129,402.5 255.8,432" fill="none" stroke="#a04a3c" stroke-opacity="0.45" stroke-width="1"/>
<polyline points="69,483 126,483 238.7,506" fill="none" stroke="#a04a3c" stroke-opacity="0.45" stroke-width="1"/>
<polyline points="69,547.3 162,546.8 275.5,545" fill="none" stroke="#a04a3c" stroke-opacity="0.45" stroke-width="1"/>
<polyline points="69,592.5 147,592.5 259.7,560" fill="none" stroke="#a04a3c" stroke-opacity="0.45" stroke-width="1"/>
<polyline points="69,658.4 180,658.4 312,649.4" fill="none" stroke="#a04a3c" stroke-opacity="0.45" stroke-width="1"/>
<polyline points="69,707 169.4,707 291,666" fill="none" stroke="#a04a3c" stroke-opacity="0.45" stroke-width="1"/>
<polyline points="69,764.5 171,764.5 316.4,674.5" fill="none" stroke="#a04a3c" stroke-opacity="0.45" stroke-width="1"/>
<polyline points="75,818 238.5,818 337.7,708.7" fill="none" stroke="#a04a3c" stroke-opacity="0.45" stroke-width="1"/>
<polyline points="449,710 578,710" fill="none" stroke="#a04a3c" stroke-opacity="0.45" stroke-width="1"/>
<circle cx="325.4" cy="366.5" r="3.2" fill="#ffffff" stroke="#d8f0ee" stroke-width="0.8"/>
<circle cx="255.8" cy="432.1" r="3.2" fill="#ffffff" stroke="#d8f0ee" stroke-width="0.8"/>
<circle cx="238.7" cy="506" r="3.2" fill="#ffffff" stroke="#d8f0ee" stroke-width="0.8"/>
<circle cx="275.5" cy="545" r="3.2" fill="#ffffff" stroke="#d8f0ee" stroke-width="0.8"/>
<circle cx="259.7" cy="560" r="3.2" fill="#ffffff" stroke="#d8f0ee" stroke-width="0.8"/>
<circle cx="312" cy="649.4" r="3.2" fill="#ffffff" stroke="#d8f0ee" stroke-width="0.8"/>
<circle cx="291" cy="666" r="3.2" fill="#ffffff" stroke="#d8f0ee" stroke-width="0.8"/>
<circle cx="316.4" cy="674.5" r="3.2" fill="#ffffff" stroke="#d8f0ee" stroke-width="0.8"/>
<circle cx="337.7" cy="708.7" r="3.2" fill="#ffffff" stroke="#d8f0ee" stroke-width="0.8"/>
<circle cx="374.5" cy="709.4" r="3.2" fill="#ffffff" stroke="#d8f0ee" stroke-width="0.8"/>
<circle cx="51.7" cy="321.5" r="22.8" fill="#e30613"/>
<text x="33.5" y="327.8" font-size="16.5" fill="#fff" font-weight="normal" textLength="36.0" lengthAdjust="spacingAndGlyphs" >1 199</text>
<text x="78.7" y="318.6" font-size="8.6" fill="#1a1a1a" font-weight="normal" textLength="55.1" lengthAdjust="spacingAndGlyphs" stroke="#1a1a1a" stroke-width="0.1">г. Усть-Илимск</text>
<circle cx="51.7" cy="401.5" r="22.8" fill="#e30613"/>
<text x="33.5" y="407.8" font-size="16.5" fill="#fff" font-weight="normal" textLength="36.0" lengthAdjust="spacingAndGlyphs" >1 742</text>
<text x="81" y="399.3" font-size="8.6" fill="#1a1a1a" font-weight="normal" textLength="36.0" lengthAdjust="spacingAndGlyphs" stroke="#1a1a1a" stroke-width="0.1">г. Братск</text>
<text x="68" y="380.3" font-size="8.5" fill="#a01e3c" font-weight="bold" textLength="16.0" lengthAdjust="spacingAndGlyphs" >+36</text>
<circle cx="51.6" cy="481.7" r="16.6" fill="#f39c1a"/>
<text x="38.1" y="486.9" font-size="16.5" fill="#4a4a4a" font-weight="normal" textLength="24.9" lengthAdjust="spacingAndGlyphs" >240</text>
<text x="78.6" y="480.2" font-size="8.6" fill="#1a1a1a" font-weight="normal" textLength="31.0" lengthAdjust="spacingAndGlyphs" stroke="#1a1a1a" stroke-width="0.1">г. Тулун</text>
<circle cx="51.6" cy="546.3" r="16.6" fill="#f39c1a"/>
<text x="39.4" y="551.5" font-size="16.5" fill="#4a4a4a" font-weight="normal" textLength="23.0" lengthAdjust="spacingAndGlyphs" >110</text>
<text x="77.9" y="544.6" font-size="8.6" fill="#1a1a1a" font-weight="normal" textLength="34.7" lengthAdjust="spacingAndGlyphs" stroke="#1a1a1a" stroke-width="0.1">г. Саянск</text>
<circle cx="51.6" cy="591.5" r="16.6" fill="#f39c1a"/>
<text x="43.5" y="596.7" font-size="16.5" fill="#4a4a4a" font-weight="normal" textLength="15.5" lengthAdjust="spacingAndGlyphs" >66</text>
<text x="78.9" y="589.8" font-size="8.6" fill="#1a1a1a" font-weight="normal" textLength="28.3" lengthAdjust="spacingAndGlyphs" stroke="#1a1a1a" stroke-width="0.1">г. Зима</text>
<text x="67.1" y="577" font-size="8.5" fill="#a01e3c" font-weight="bold" textLength="14.9" lengthAdjust="spacingAndGlyphs" >+10</text>
<circle cx="51.6" cy="657" r="16.6" fill="#f39c1a"/>
<text x="39" y="662.2" font-size="16.5" fill="#4a4a4a" font-weight="normal" textLength="23.2" lengthAdjust="spacingAndGlyphs" >197</text>
<text x="77" y="655.3" font-size="8.6" fill="#1a1a1a" font-weight="normal" textLength="36.8" lengthAdjust="spacingAndGlyphs" stroke="#1a1a1a" stroke-width="0.1">г. Свирск</text>
<text x="65.5" y="640.2" font-size="8.5" fill="#a01e3c" font-weight="bold" textLength="14.3" lengthAdjust="spacingAndGlyphs" >+12</text>
<circle cx="51.6" cy="705" r="16.6" fill="#f39c1a"/>
<text x="39" y="710.2" font-size="16.5" fill="#4a4a4a" font-weight="normal" textLength="24.8" lengthAdjust="spacingAndGlyphs" >408</text>
<text x="77" y="703.9" font-size="8.6" fill="#1a1a1a" font-weight="normal" textLength="52.8" lengthAdjust="spacingAndGlyphs" stroke="#1a1a1a" stroke-width="0.1">г. Черемхово</text>
<text x="65.5" y="689.4" font-size="8.5" fill="#a01e3c" font-weight="bold" textLength="14.3" lengthAdjust="spacingAndGlyphs" >+17</text>
<circle cx="51.4" cy="764" r="16.6" fill="#f39c1a"/>
<text x="37.5" y="769.2" font-size="16.5" fill="#4a4a4a" font-weight="normal" textLength="27.0" lengthAdjust="spacingAndGlyphs" >477</text>
<text x="75" y="762.6" font-size="8.6" fill="#1a1a1a" font-weight="normal" textLength="82.4" lengthAdjust="spacingAndGlyphs" stroke="#1a1a1a" stroke-width="0.1">г. Усолье-Сибирское</text>
<text x="65.4" y="746" font-size="8.5" fill="#a01e3c" font-weight="bold" textLength="10.2" lengthAdjust="spacingAndGlyphs" >+5</text>
<circle cx="51.2" cy="816" r="22.2" fill="#e30613"/>
<text x="31.5" y="822.3" font-size="16.5" fill="#fff" font-weight="normal" textLength="39.0" lengthAdjust="spacingAndGlyphs" >2 840</text>
<text x="81" y="815.6" font-size="8.6" fill="#1a1a1a" font-weight="normal" textLength="40.4" lengthAdjust="spacingAndGlyphs" stroke="#1a1a1a" stroke-width="0.1">г. Ангарск</text>
<text x="66.5" y="796.3" font-size="8.5" fill="#a01e3c" font-weight="bold" textLength="16.0" lengthAdjust="spacingAndGlyphs" >+29</text>
<circle cx="603.4" cy="707" r="25.5" fill="#e30613"/>
<text x="581" y="713" font-size="16.5" fill="#fff" font-weight="normal" textLength="45.0" lengthAdjust="spacingAndGlyphs" >12 379</text>
<text x="530" y="708" font-size="8.6" fill="#1a1a1a" font-weight="normal" textLength="41.0" lengthAdjust="spacingAndGlyphs" stroke="#1a1a1a" stroke-width="0.1">г. Иркутск</text>
<text x="561" y="692.5" font-size="8.5" fill="#a01e3c" font-weight="bold" textLength="15.0" lengthAdjust="spacingAndGlyphs" >+49</text>
<text x="24.5" y="26" font-size="10" fill="#111" font-weight="bold" textLength="133.3" lengthAdjust="spacingAndGlyphs" >Карта распространения</text>
<text x="24.5" y="38.4" font-size="10" fill="#111" font-weight="bold" textLength="273.0" lengthAdjust="spacingAndGlyphs" >коронавирусной инфекции в Иркутской области</text>
<text x="24.5" y="50.9" font-size="10" fill="#111" font-weight="bold" textLength="209.9" lengthAdjust="spacingAndGlyphs" >За период с 18.03.2020 по 16.11.2020 г.</text>
<line x1="24" y1="57.9" x2="167" y2="57.9" stroke="#c4c4c4" stroke-width="1.4"/>
<text x="24.5" y="68.9" font-size="8.2" fill="#222" font-weight="bold" textLength="69.2" lengthAdjust="spacingAndGlyphs" >Данные на 08:00</text>
<rect x="471" y="16.5" width="185.5" height="44" fill="#1a3c86"/>
<rect x="473" y="20.2" width="181.5" height="12.6" fill="#d8401f"/>
<rect x="473" y="32.8" width="181.5" height="25.8" fill="#1f4ca4"/>
<text x="499.8" y="29.8" font-size="10" fill="#fff" font-weight="bold" textLength="134.2" lengthAdjust="spacingAndGlyphs" >Телефон горячей линии:</text>
<text x="514.6" y="45.7" font-size="11.3" fill="#fff" font-weight="bold" textLength="92.9" lengthAdjust="spacingAndGlyphs" >8 (3952) 39-99-99</text>
<text x="493.6" y="56.8" font-size="8.3" fill="#fff" font-weight="bold" textLength="143.9" lengthAdjust="spacingAndGlyphs" >ГУ МЧС России по Иркутской области</text>
<circle cx="106" cy="152.5" r="26.5" fill="#fafafa" stroke="#d0d0d0" stroke-width="0.8" filter="url(#csh)"/>
<circle cx="108.3" cy="152.3" r="20" fill="#e30613"/>
<circle cx="248" cy="122" r="38" fill="#fafafa" stroke="#d0d0d0" stroke-width="0.8" filter="url(#csh)"/>
<circle cx="247.5" cy="122.5" r="31" fill="#1a9428"/>
<circle cx="232" cy="188" r="27.5" fill="#fafafa" stroke="#d0d0d0" stroke-width="0.8" filter="url(#csh)"/>
<circle cx="233" cy="188.5" r="20.5" fill="#1a9428"/>
<circle cx="133.7" cy="213.7" r="28" fill="#fafafa" stroke="#d0d0d0" stroke-width="0.8" filter="url(#csh)"/>
<circle cx="134.4" cy="214.2" r="21" fill="#0a0a0a"/>
<circle cx="174" cy="152" r="44.6" fill="#e30613" filter="url(#csh)"/>
<circle cx="174" cy="152" r="38.6" fill="#efefef"/>
<text x="143.7" y="153.5" font-size="18" fill="#000" font-weight="bold" textLength="62.1" lengthAdjust="spacingAndGlyphs" >28 591</text>
<text x="144.7" y="163.6" font-size="7.5" fill="#222" font-weight="normal" textLength="61.1" lengthAdjust="spacingAndGlyphs" >зарегистрировано</text>
<text x="162" y="170.2" font-size="7.5" fill="#222" font-weight="normal" textLength="27.0" lengthAdjust="spacingAndGlyphs" >случаев</text>
<text x="91.5" y="158.4" font-size="15" fill="#fff" font-weight="bold" textLength="32.9" lengthAdjust="spacingAndGlyphs" >+259</text>
<text x="224.5" y="129" font-size="15" fill="#fff" font-weight="bold" textLength="46.0" lengthAdjust="spacingAndGlyphs" >22 348</text>
<text x="221" y="194.5" font-size="15" fill="#fff" font-weight="bold" textLength="24.0" lengthAdjust="spacingAndGlyphs" >+32</text>
<text x="121.5" y="220.5" font-size="17" fill="#fff" font-weight="bold" textLength="24.7" lengthAdjust="spacingAndGlyphs" >798</text>
<text x="25.6" y="156" font-size="9.2" fill="#222" font-weight="normal" textLength="48.8" lengthAdjust="spacingAndGlyphs" stroke="#222" stroke-width="0.25">ЗАБОЛЕЛО</text>
<text x="263.7" y="169.6" font-size="9" fill="#222" font-weight="normal" textLength="70.3" lengthAdjust="spacingAndGlyphs" stroke="#222" stroke-width="0.25">ВЫЗДОРОВЕЛО</text>
<text x="62.9" y="218.4" font-size="9.2" fill="#222" font-weight="normal" textLength="37.5" lengthAdjust="spacingAndGlyphs" stroke="#222" stroke-width="0.3">УМЕРЛО</text>
<text x="89.4" y="251" font-size="6.7" fill="#333" font-weight="normal" textLength="101.1" lengthAdjust="spacing" >из них 131 умерло от иных</text>
<text x="89.4" y="258.7" font-size="6.7" fill="#333" font-weight="normal" textLength="103.4" lengthAdjust="spacing" >заболеваний, не связанных</text>
<text x="89.4" y="266.5" font-size="6.7" fill="#333" font-weight="normal" textLength="42.6" lengthAdjust="spacing" >с COVID-19</text>
</svg></body></html>
